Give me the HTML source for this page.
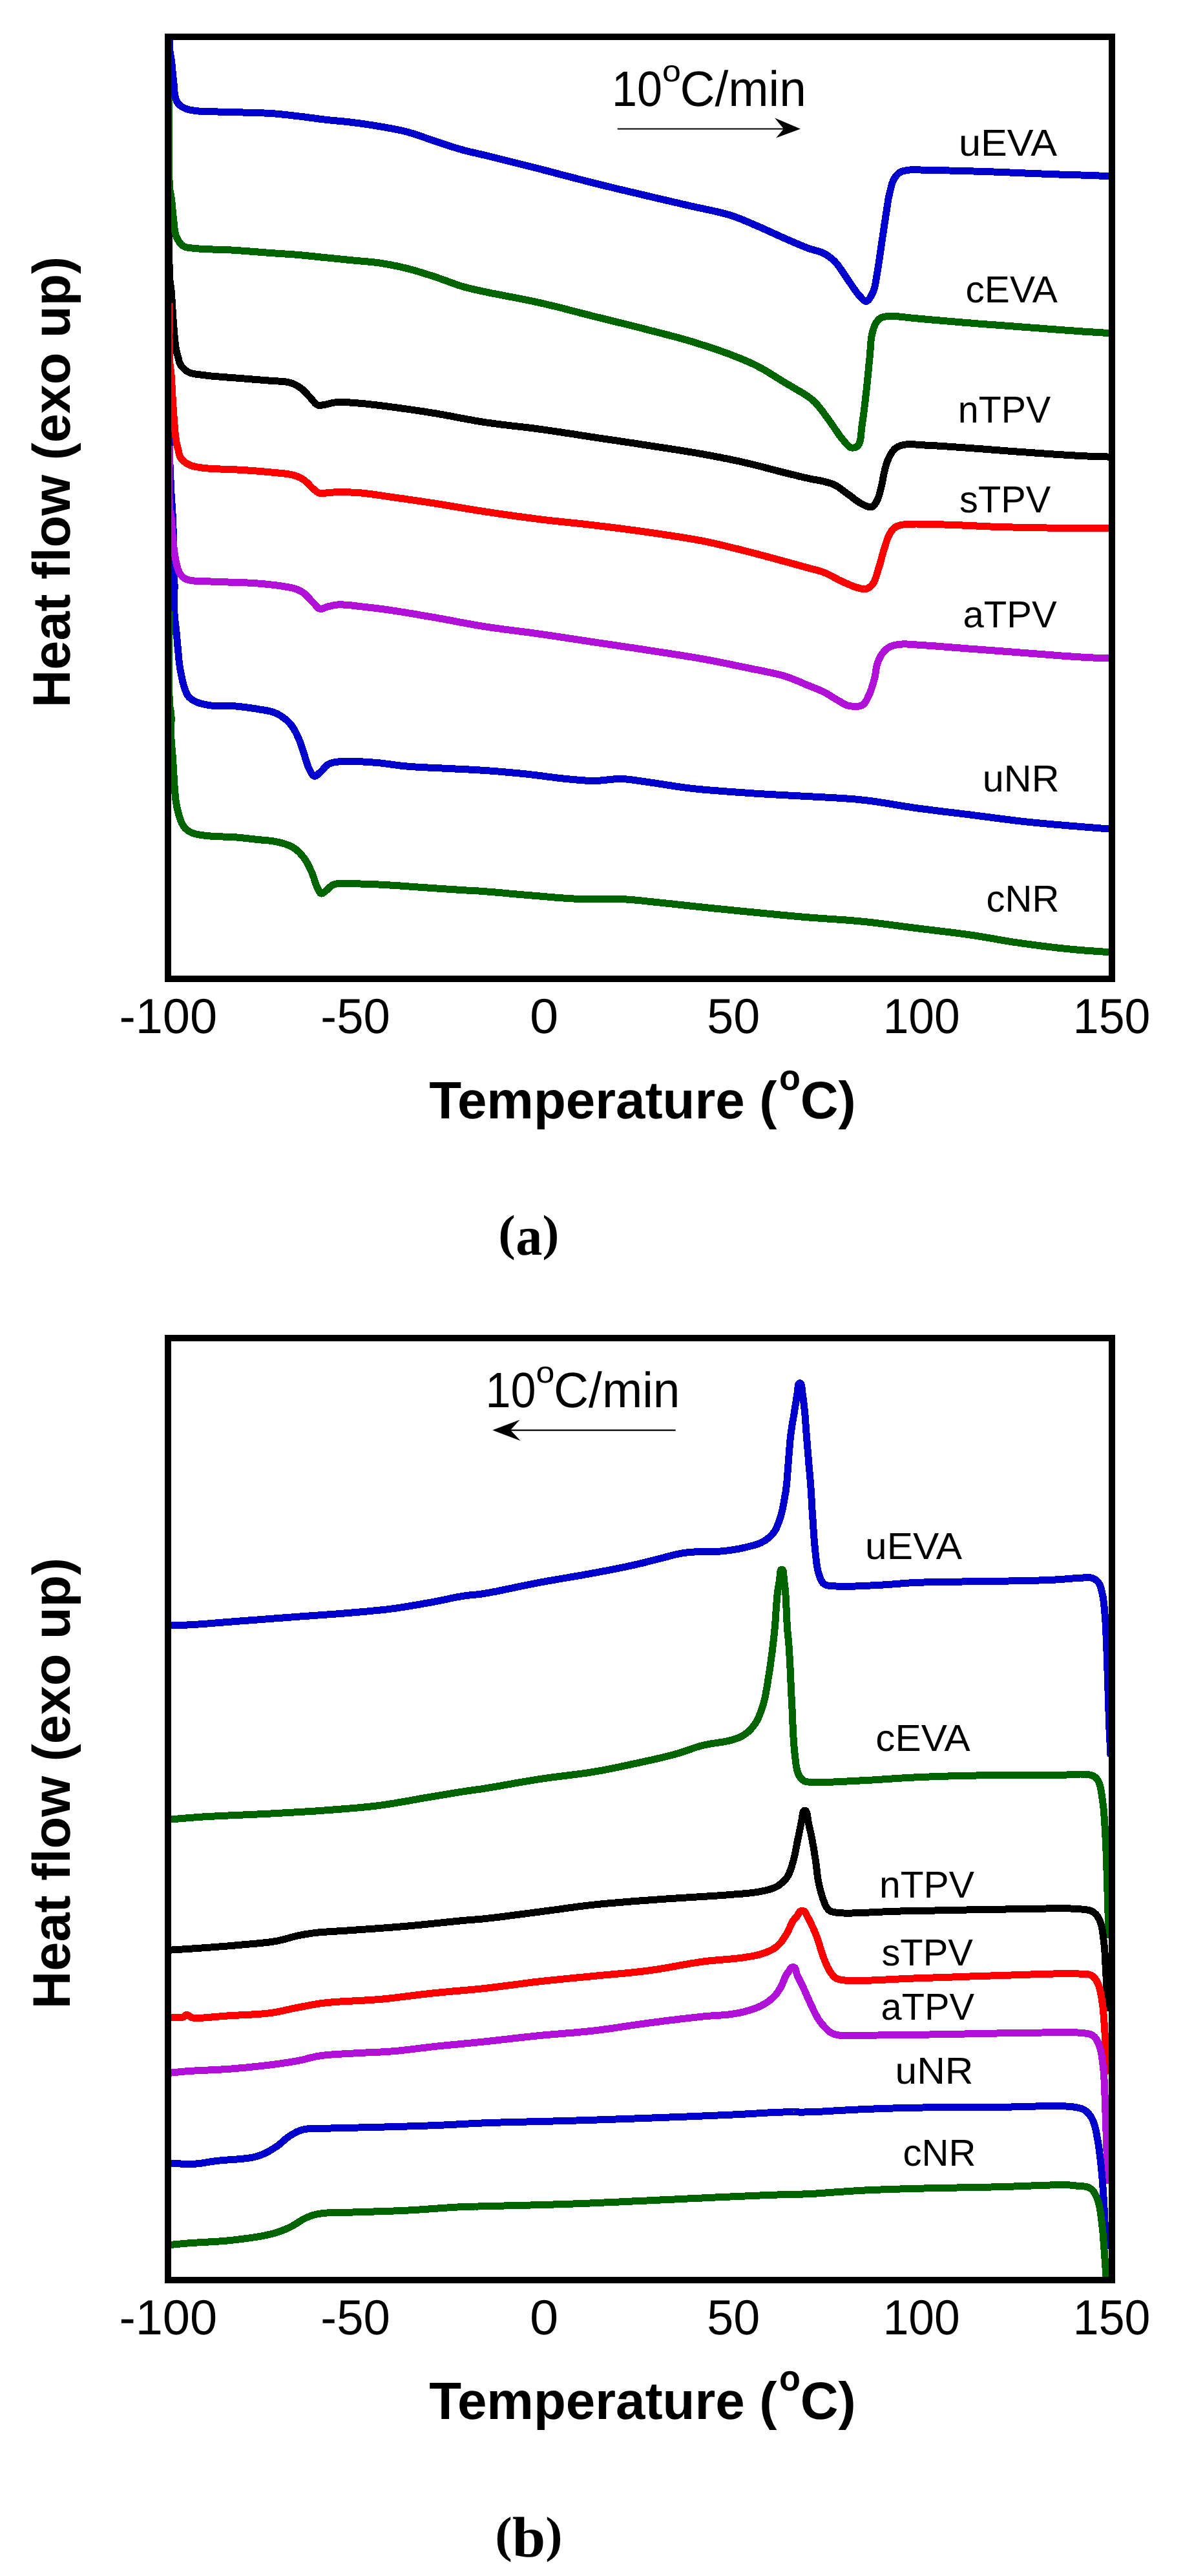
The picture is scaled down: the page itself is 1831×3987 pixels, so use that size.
<!DOCTYPE html>
<html><head><meta charset="utf-8"><title>DSC thermograms</title>
<style>
html,body{margin:0;padding:0;background:#fff;}
svg{display:block;}
text{font-family:"Liberation Sans",sans-serif;fill:#000;}
.cap text{font-family:"Liberation Serif",serif;font-weight:bold;}
.c path{fill:none;stroke-width:11;stroke-linejoin:round;stroke-linecap:butt;}
</style></head><body>
<svg width="1831" height="3987" viewBox="0 0 1831 3987" shape-rendering="crispEdges">
<defs>
<clipPath id="c1"><rect x="262" y="58" width="1457" height="1455"/></clipPath>
<clipPath id="c2"><rect x="262" y="2072" width="1457" height="1455.5"/></clipPath>
</defs>
<rect width="1831" height="3987" fill="#fff"/>

<g class="c">
<path d="M262.5 660.0 L262.5 661.1 L262.5 664.2 L262.4 668.8 L262.4 674.5 L262.4 680.9 L262.4 687.6 L262.4 694.1 L262.5 700.0 L262.7 707.0 L262.9 714.4 L263.1 722.0 L263.4 729.8 L263.8 737.6 L264.1 745.3 L264.5 752.8 L264.8 760.0 L265.1 765.8 L265.4 771.3 L265.8 776.6 L266.2 781.9 L266.5 787.2 L266.9 792.8 L267.2 798.7 L267.5 805.0 L267.9 815.1 L268.3 826.3 L268.7 838.2 L269.0 850.5 L269.3 862.9 L269.6 875.0 L269.8 886.5 L270.0 897.0 L270.0 904.4 L270.0 911.7 L269.9 918.8 L269.8 925.6 L269.7 932.1 L269.7 938.4 L269.8 944.4 L270.0 950.0 L270.2 953.7 L270.5 957.1 L270.9 960.3 L271.3 963.4 L271.7 966.5 L272.1 969.6 L272.4 972.7 L272.8 976.0 L273.2 979.8 L273.5 983.7 L273.9 987.6 L274.2 991.6 L274.6 995.6 L274.9 999.5 L275.3 1003.3 L275.6 1007.0 L275.9 1010.1 L276.2 1013.1 L276.5 1016.1 L276.7 1019.0 L277.0 1021.9 L277.3 1024.7 L277.7 1027.4 L278.0 1030.0 L278.3 1032.0 L278.6 1034.0 L279.0 1036.0 L279.3 1037.9 L279.7 1039.7 L280.0 1041.5 L280.4 1043.3 L280.7 1045.0 L281.0 1046.5 L281.3 1047.9 L281.5 1049.3 L281.8 1050.6 L282.1 1052.0 L282.4 1053.3 L282.7 1054.7 L283.0 1056.0 L283.3 1057.3 L283.7 1058.5 L284.0 1059.8 L284.4 1061.0 L284.7 1062.3 L285.1 1063.5 L285.5 1064.7 L286.0 1066.0 L286.5 1067.4 L287.0 1068.8 L287.6 1070.3 L288.1 1071.7 L288.7 1073.1 L289.4 1074.5 L290.2 1075.8 L291.0 1077.0 L291.9 1078.1 L292.9 1079.2 L294.0 1080.2 L295.1 1081.1 L296.3 1082.1 L297.5 1082.9 L298.7 1083.7 L300.0 1084.5 L301.3 1085.2 L302.7 1085.9 L304.1 1086.5 L305.5 1087.1 L306.9 1087.6 L308.4 1088.1 L309.9 1088.5 L311.5 1089.0 L313.3 1089.5 L315.1 1090.0 L316.9 1090.4 L318.8 1090.8 L320.7 1091.1 L322.7 1091.5 L324.8 1091.8 L327.0 1092.0 L330.1 1092.2 L333.4 1092.3 L336.9 1092.3 L340.4 1092.2 L344.1 1092.1 L347.9 1092.1 L351.8 1092.1 L355.7 1092.3 L360.6 1092.6 L365.8 1093.1 L371.3 1093.6 L376.8 1094.3 L382.3 1095.0 L387.7 1095.7 L393.0 1096.5 L397.9 1097.3 L401.9 1098.0 L405.9 1098.6 L409.7 1099.2 L413.5 1099.9 L417.2 1100.7 L420.8 1101.6 L424.2 1102.7 L427.5 1104.1 L430.5 1105.6 L433.4 1107.2 L436.3 1109.0 L439.0 1111.0 L441.6 1113.0 L444.1 1115.2 L446.4 1117.4 L448.6 1119.7 L450.6 1122.1 L452.5 1124.6 L454.1 1127.1 L455.7 1129.8 L457.2 1132.5 L458.6 1135.3 L460.0 1138.1 L461.3 1140.9 L462.6 1143.7 L463.7 1146.5 L464.8 1149.4 L465.8 1152.3 L466.8 1155.2 L467.8 1158.2 L468.8 1161.1 L469.8 1164.1 L470.8 1167.3 L471.8 1170.6 L472.8 1174.0 L473.8 1177.4 L474.8 1180.7 L475.9 1183.9 L477.0 1186.8 L478.2 1189.5 L479.2 1191.4 L480.1 1193.3 L481.1 1195.2 L482.2 1197.0 L483.2 1198.6 L484.3 1199.9 L485.5 1200.8 L486.7 1201.3 L487.9 1201.2 L489.2 1200.7 L490.5 1199.9 L491.9 1198.8 L493.2 1197.5 L494.6 1196.2 L495.9 1194.9 L497.3 1193.7 L498.6 1192.5 L499.8 1191.1 L501.1 1189.6 L502.3 1188.2 L503.5 1186.7 L504.9 1185.4 L506.3 1184.2 L507.8 1183.1 L509.6 1182.2 L511.4 1181.5 L513.3 1180.8 L515.3 1180.3 L517.4 1179.9 L519.7 1179.5 L522.1 1179.2 L524.7 1178.9 L530.1 1178.5 L536.3 1178.3 L543.1 1178.3 L550.4 1178.5 L557.8 1178.8 L565.4 1179.2 L572.7 1179.7 L579.7 1180.2 L586.1 1180.7 L592.4 1181.4 L598.6 1182.2 L604.8 1183.0 L611.0 1183.9 L617.4 1184.7 L623.8 1185.5 L630.4 1186.1 L638.0 1186.7 L645.8 1187.2 L653.8 1187.6 L661.9 1188.0 L670.0 1188.4 L678.0 1188.7 L686.0 1189.1 L693.8 1189.5 L701.0 1189.8 L708.0 1190.2 L715.0 1190.5 L721.9 1190.8 L728.8 1191.2 L735.8 1191.5 L742.8 1192.0 L750.0 1192.4 L757.7 1193.0 L765.6 1193.6 L773.5 1194.2 L781.5 1194.9 L789.5 1195.6 L797.5 1196.4 L805.5 1197.1 L813.4 1197.9 L821.4 1198.8 L829.6 1199.8 L837.7 1200.8 L845.9 1201.9 L854.0 1202.9 L861.8 1203.9 L869.5 1204.8 L876.8 1205.5 L882.5 1206.1 L888.0 1206.6 L893.3 1207.1 L898.5 1207.6 L903.6 1207.9 L908.7 1208.2 L913.8 1208.4 L919.1 1208.5 L924.3 1208.4 L929.6 1208.0 L934.9 1207.5 L940.2 1206.9 L945.5 1206.3 L950.8 1205.9 L956.0 1205.6 L961.3 1205.5 L966.6 1205.8 L971.7 1206.2 L976.8 1206.8 L981.9 1207.4 L987.1 1208.2 L992.4 1209.0 L997.9 1209.8 L1003.6 1210.6 L1010.9 1211.6 L1018.5 1212.8 L1026.4 1214.0 L1034.5 1215.3 L1042.6 1216.5 L1050.8 1217.8 L1059.0 1218.9 L1067.0 1219.9 L1074.9 1220.8 L1082.8 1221.6 L1090.7 1222.3 L1098.7 1223.0 L1106.6 1223.6 L1114.5 1224.2 L1122.5 1224.8 L1130.4 1225.4 L1138.3 1226.0 L1146.3 1226.6 L1154.3 1227.1 L1162.3 1227.7 L1170.3 1228.2 L1178.2 1228.7 L1186.0 1229.2 L1193.8 1229.6 L1200.9 1230.0 L1207.8 1230.4 L1214.6 1230.7 L1221.4 1231.1 L1228.2 1231.4 L1235.2 1231.8 L1242.5 1232.2 L1250.0 1232.6 L1259.7 1233.1 L1269.9 1233.6 L1280.5 1234.2 L1291.2 1234.8 L1302.1 1235.4 L1313.0 1236.2 L1323.9 1237.0 L1334.5 1238.1 L1345.1 1239.3 L1355.7 1240.8 L1366.3 1242.4 L1376.8 1244.1 L1387.4 1245.8 L1397.9 1247.6 L1408.5 1249.2 L1419.1 1250.8 L1429.6 1252.2 L1440.2 1253.5 L1450.8 1254.9 L1461.3 1256.2 L1471.9 1257.5 L1482.5 1258.7 L1493.0 1260.0 L1503.6 1261.3 L1514.2 1262.7 L1524.7 1264.0 L1535.3 1265.4 L1545.8 1266.8 L1556.4 1268.1 L1567.0 1269.5 L1577.5 1270.7 L1588.1 1271.9 L1598.8 1273.0 L1609.8 1274.1 L1620.8 1275.1 L1631.8 1276.1 L1642.6 1277.0 L1653.1 1277.9 L1663.2 1278.7 L1672.7 1279.5 L1680.0 1280.1 L1688.0 1280.7 L1696.1 1281.4 L1703.9 1282.0 L1710.7 1282.5 L1716.3 1282.9 L1719.9 1283.2 L1721.3 1283.3" stroke="#0000cd" clip-path="url(#c1)"/>
<path d="M262.5 945.7 L262.4 950.9 L262.2 965.0 L262.0 985.2 L261.8 1009.1 L261.7 1034.1 L261.7 1057.6 L262.0 1077.1 L262.5 1090.0 L262.7 1092.6 L263.0 1094.7 L263.4 1096.5 L263.7 1098.1 L264.0 1099.6 L264.3 1101.2 L264.6 1102.9 L264.8 1105.0 L265.0 1108.7 L265.0 1112.7 L265.0 1117.0 L264.9 1121.6 L264.8 1126.2 L264.7 1130.9 L264.7 1135.5 L264.8 1140.0 L265.0 1144.3 L265.3 1148.6 L265.6 1152.9 L266.0 1157.2 L266.4 1161.5 L266.8 1165.9 L267.2 1170.4 L267.5 1175.0 L267.9 1180.6 L268.2 1186.5 L268.6 1192.5 L268.9 1198.7 L269.3 1204.7 L269.6 1210.5 L270.0 1216.0 L270.4 1221.0 L270.7 1224.2 L270.9 1227.2 L271.2 1230.1 L271.4 1232.9 L271.7 1235.5 L272.0 1238.1 L272.3 1240.6 L272.7 1243.0 L273.0 1244.8 L273.3 1246.5 L273.6 1248.2 L274.0 1249.8 L274.4 1251.3 L274.7 1252.9 L275.1 1254.4 L275.5 1256.0 L275.9 1257.5 L276.3 1259.1 L276.7 1260.6 L277.1 1262.2 L277.6 1263.7 L278.0 1265.2 L278.5 1266.6 L279.0 1268.0 L279.4 1269.2 L279.9 1270.4 L280.3 1271.5 L280.8 1272.7 L281.3 1273.8 L281.8 1274.9 L282.4 1275.9 L283.0 1277.0 L283.7 1278.1 L284.5 1279.2 L285.3 1280.2 L286.1 1281.3 L287.0 1282.3 L288.0 1283.2 L289.0 1284.2 L290.0 1285.0 L291.1 1285.8 L292.2 1286.5 L293.4 1287.2 L294.6 1287.8 L295.8 1288.4 L297.1 1289.0 L298.5 1289.5 L300.0 1290.0 L302.1 1290.6 L304.4 1291.2 L306.8 1291.7 L309.4 1292.1 L312.0 1292.5 L314.7 1292.9 L317.3 1293.2 L320.0 1293.5 L323.1 1293.8 L326.3 1294.1 L329.6 1294.3 L333.0 1294.5 L336.3 1294.7 L339.4 1294.8 L342.4 1294.9 L345.0 1295.0 L346.5 1295.0 L347.8 1295.1 L349.0 1295.0 L350.2 1295.0 L351.3 1295.0 L352.6 1295.0 L354.0 1295.1 L355.7 1295.1 L359.7 1295.4 L364.4 1295.8 L369.8 1296.3 L375.5 1296.9 L381.4 1297.6 L387.2 1298.2 L392.8 1298.8 L397.9 1299.4 L401.9 1299.8 L405.8 1300.1 L409.5 1300.4 L413.2 1300.7 L416.9 1301.1 L420.4 1301.5 L424.0 1302.1 L427.5 1302.7 L430.9 1303.5 L434.2 1304.3 L437.5 1305.2 L440.8 1306.1 L444.0 1307.2 L447.1 1308.4 L450.1 1309.7 L452.9 1311.2 L455.3 1312.8 L457.7 1314.4 L459.9 1316.3 L462.0 1318.2 L464.1 1320.2 L466.0 1322.3 L467.9 1324.6 L469.8 1326.8 L471.7 1329.4 L473.4 1332.2 L475.1 1335.0 L476.7 1338.0 L478.2 1341.0 L479.7 1344.1 L481.1 1347.1 L482.5 1350.1 L483.7 1353.0 L484.8 1356.1 L485.9 1359.2 L486.9 1362.3 L487.8 1365.4 L488.8 1368.3 L489.8 1370.9 L490.9 1373.3 L491.7 1374.9 L492.4 1376.5 L493.1 1378.1 L493.9 1379.5 L494.6 1380.8 L495.5 1381.9 L496.3 1382.6 L497.3 1383.1 L498.2 1383.0 L499.2 1382.7 L500.2 1382.1 L501.3 1381.3 L502.4 1380.4 L503.5 1379.4 L504.6 1378.4 L505.7 1377.6 L506.9 1376.6 L508.2 1375.4 L509.4 1374.3 L510.6 1373.1 L511.9 1371.9 L513.2 1370.8 L514.7 1369.9 L516.3 1369.1 L518.4 1368.4 L520.7 1368.0 L523.2 1367.8 L525.7 1367.7 L528.4 1367.7 L531.3 1367.8 L534.3 1367.8 L537.4 1367.8 L542.7 1367.8 L548.4 1367.8 L554.6 1367.9 L561.0 1368.1 L567.7 1368.3 L574.5 1368.5 L581.4 1368.8 L588.1 1369.1 L595.7 1369.5 L603.5 1370.0 L611.4 1370.5 L619.4 1371.0 L627.4 1371.6 L635.5 1372.2 L643.5 1372.8 L651.5 1373.3 L659.6 1373.9 L667.8 1374.4 L676.1 1375.0 L684.4 1375.5 L692.5 1376.1 L700.4 1376.6 L707.9 1377.1 L714.9 1377.6 L719.7 1377.9 L724.2 1378.1 L728.4 1378.3 L732.5 1378.6 L736.5 1378.8 L740.7 1379.0 L745.2 1379.3 L750.0 1379.7 L757.0 1380.2 L764.3 1380.8 L772.0 1381.5 L780.0 1382.2 L788.1 1383.0 L796.5 1383.7 L804.9 1384.5 L813.4 1385.2 L823.5 1386.0 L834.0 1386.9 L844.7 1387.8 L855.7 1388.8 L866.6 1389.6 L877.4 1390.4 L887.9 1391.0 L897.9 1391.5 L906.3 1391.7 L914.4 1391.7 L922.4 1391.6 L930.2 1391.5 L938.0 1391.3 L945.7 1391.2 L953.5 1391.3 L961.3 1391.5 L969.3 1392.0 L977.2 1392.5 L985.1 1393.3 L993.0 1394.0 L1001.0 1394.9 L1008.9 1395.7 L1016.8 1396.6 L1024.7 1397.4 L1032.6 1398.2 L1040.4 1399.0 L1048.1 1399.9 L1055.9 1400.7 L1063.7 1401.6 L1071.6 1402.4 L1079.8 1403.3 L1088.1 1404.2 L1098.1 1405.2 L1108.5 1406.3 L1119.1 1407.3 L1129.9 1408.4 L1140.7 1409.5 L1151.5 1410.6 L1162.2 1411.6 L1172.7 1412.6 L1182.5 1413.6 L1192.1 1414.5 L1201.8 1415.4 L1211.3 1416.4 L1220.9 1417.2 L1230.5 1418.1 L1240.2 1419.0 L1250.0 1419.8 L1260.4 1420.6 L1270.9 1421.4 L1281.4 1422.1 L1292.0 1422.8 L1302.7 1423.5 L1313.3 1424.3 L1323.9 1425.2 L1334.5 1426.2 L1345.1 1427.3 L1355.7 1428.5 L1366.2 1429.8 L1376.8 1431.2 L1387.4 1432.6 L1397.9 1434.0 L1408.5 1435.4 L1419.1 1436.7 L1429.7 1438.0 L1440.5 1439.3 L1451.3 1440.6 L1462.1 1441.9 L1472.8 1443.2 L1483.3 1444.5 L1493.6 1445.9 L1503.6 1447.3 L1512.0 1448.6 L1520.1 1449.9 L1528.0 1451.3 L1535.9 1452.6 L1543.6 1454.0 L1551.3 1455.3 L1559.1 1456.6 L1567.0 1457.9 L1575.0 1459.0 L1583.1 1460.2 L1591.3 1461.3 L1599.5 1462.4 L1607.5 1463.5 L1615.4 1464.5 L1623.1 1465.4 L1630.4 1466.3 L1636.1 1467.0 L1641.5 1467.6 L1646.7 1468.1 L1651.9 1468.6 L1657.0 1469.1 L1662.1 1469.6 L1667.3 1470.1 L1672.7 1470.5 L1679.2 1471.1 L1686.8 1471.6 L1694.9 1472.2 L1702.8 1472.7 L1710.0 1473.2 L1715.9 1473.6 L1719.8 1473.8 L1721.3 1473.9" stroke="#006400" clip-path="url(#c1)"/>
<path d="M262.5 690.0 L262.4 693.5 L262.3 702.7 L262.1 716.1 L261.9 732.0 L261.8 748.7 L261.9 764.5 L262.1 777.9 L262.5 787.0 L262.7 789.2 L263.0 791.0 L263.3 792.5 L263.6 793.9 L263.9 795.2 L264.2 796.6 L264.5 798.2 L264.8 800.0 L265.2 803.3 L265.5 807.1 L265.9 811.1 L266.2 815.3 L266.5 819.6 L266.8 823.9 L267.1 828.1 L267.5 832.0 L267.8 835.4 L268.2 838.9 L268.5 842.3 L268.9 845.7 L269.2 849.0 L269.6 852.1 L270.0 855.2 L270.4 858.0 L270.7 860.0 L271.0 861.8 L271.3 863.6 L271.6 865.3 L271.9 867.0 L272.2 868.6 L272.6 870.3 L273.0 872.0 L273.4 873.8 L273.9 875.6 L274.4 877.5 L274.9 879.3 L275.5 881.1 L276.1 882.8 L276.8 884.5 L277.5 886.0 L278.2 887.2 L278.9 888.3 L279.7 889.4 L280.4 890.5 L281.3 891.4 L282.1 892.4 L283.1 893.2 L284.0 894.0 L284.9 894.7 L285.8 895.2 L286.6 895.8 L287.6 896.2 L288.6 896.7 L289.7 897.1 L290.9 897.4 L292.3 897.8 L295.9 898.5 L300.3 899.0 L305.3 899.3 L310.8 899.6 L316.6 899.7 L322.6 899.9 L328.6 900.1 L334.5 900.3 L341.9 900.6 L349.8 900.9 L358.1 901.2 L366.4 901.4 L374.8 901.7 L382.9 902.0 L390.7 902.4 L397.9 902.9 L403.2 903.3 L408.4 903.8 L413.4 904.3 L418.3 904.8 L423.0 905.4 L427.5 905.9 L431.8 906.5 L436.0 907.1 L439.0 907.6 L441.8 908.0 L444.6 908.5 L447.3 909.0 L449.9 909.5 L452.4 910.0 L454.8 910.6 L457.1 911.4 L458.9 912.0 L460.6 912.6 L462.2 913.3 L463.7 914.0 L465.2 914.8 L466.7 915.7 L468.2 916.6 L469.8 917.7 L471.7 919.2 L473.6 920.9 L475.5 922.8 L477.4 924.8 L479.2 926.9 L481.0 928.9 L482.8 930.8 L484.6 932.5 L485.9 933.9 L487.3 935.4 L488.5 936.9 L489.8 938.4 L491.0 939.7 L492.3 940.8 L493.7 941.7 L495.1 942.2 L496.6 942.4 L498.1 942.2 L499.6 941.8 L501.2 941.3 L502.8 940.6 L504.5 939.9 L506.1 939.3 L507.8 938.8 L509.8 938.4 L511.7 937.9 L513.6 937.5 L515.6 937.0 L517.7 936.6 L519.9 936.3 L522.2 936.0 L524.7 935.9 L529.1 935.9 L533.9 936.1 L539.2 936.5 L544.7 937.0 L550.3 937.7 L556.0 938.4 L561.6 939.1 L567.0 939.7 L572.2 940.3 L577.4 940.9 L582.5 941.5 L587.6 942.2 L592.8 942.8 L598.1 943.6 L603.6 944.3 L609.3 945.2 L616.5 946.3 L624.1 947.5 L631.8 948.8 L639.8 950.1 L647.9 951.5 L656.1 952.9 L664.3 954.3 L672.7 955.7 L681.9 957.4 L691.4 959.1 L700.9 960.9 L710.6 962.8 L720.4 964.6 L730.2 966.4 L740.1 968.1 L750.0 969.7 L760.4 971.3 L770.9 972.7 L781.4 974.2 L792.0 975.5 L802.7 976.9 L813.3 978.2 L823.9 979.6 L834.5 981.1 L845.1 982.6 L855.7 984.2 L866.2 985.8 L876.8 987.4 L887.4 989.0 L897.9 990.6 L908.5 992.2 L919.1 993.8 L929.6 995.4 L940.2 996.9 L950.8 998.5 L961.3 1000.1 L971.9 1001.7 L982.5 1003.2 L993.0 1004.8 L1003.6 1006.5 L1014.2 1008.1 L1025.0 1009.8 L1035.8 1011.4 L1046.6 1013.1 L1057.3 1014.8 L1067.9 1016.5 L1078.2 1018.2 L1088.1 1020.0 L1096.5 1021.5 L1104.6 1023.1 L1112.6 1024.6 L1120.4 1026.2 L1128.2 1027.8 L1135.9 1029.4 L1143.7 1031.0 L1151.5 1032.7 L1159.6 1034.3 L1167.8 1036.0 L1176.2 1037.6 L1184.5 1039.3 L1192.6 1041.0 L1200.5 1042.8 L1207.9 1044.6 L1214.9 1046.6 L1219.9 1048.2 L1224.6 1049.9 L1229.2 1051.7 L1233.5 1053.5 L1237.8 1055.3 L1241.9 1057.1 L1246.0 1058.9 L1250.0 1060.6 L1253.4 1061.9 L1256.7 1063.2 L1260.0 1064.5 L1263.1 1065.7 L1266.3 1067.0 L1269.3 1068.3 L1272.4 1069.7 L1275.4 1071.1 L1278.1 1072.6 L1280.9 1074.2 L1283.6 1075.8 L1286.2 1077.5 L1288.8 1079.2 L1291.4 1080.8 L1294.0 1082.4 L1296.5 1083.8 L1298.7 1085.0 L1300.8 1086.3 L1302.8 1087.6 L1304.9 1088.8 L1306.9 1089.9 L1309.0 1090.8 L1311.2 1091.7 L1313.4 1092.3 L1316.0 1092.8 L1318.7 1093.1 L1321.5 1093.4 L1324.4 1093.5 L1327.2 1093.4 L1329.9 1093.0 L1332.4 1092.4 L1334.5 1091.4 L1336.3 1090.2 L1337.9 1088.6 L1339.3 1086.7 L1340.6 1084.6 L1341.8 1082.4 L1342.9 1080.1 L1344.0 1077.7 L1345.1 1075.4 L1346.4 1072.5 L1347.6 1069.5 L1348.8 1066.3 L1349.8 1063.0 L1350.9 1059.7 L1351.8 1056.4 L1352.7 1053.2 L1353.6 1050.0 L1354.2 1047.1 L1354.7 1044.2 L1355.2 1041.4 L1355.5 1038.5 L1356.0 1035.7 L1356.4 1032.9 L1357.0 1030.2 L1357.8 1027.6 L1358.6 1025.3 L1359.5 1023.0 L1360.4 1020.7 L1361.5 1018.5 L1362.6 1016.4 L1363.7 1014.4 L1364.9 1012.5 L1366.2 1010.7 L1367.4 1009.3 L1368.6 1007.9 L1369.8 1006.6 L1371.0 1005.4 L1372.4 1004.3 L1373.8 1003.2 L1375.2 1002.3 L1376.8 1001.4 L1378.6 1000.5 L1380.6 999.8 L1382.6 999.1 L1384.7 998.6 L1386.9 998.1 L1389.1 997.8 L1391.4 997.4 L1393.7 997.2 L1396.5 997.0 L1399.3 996.9 L1402.2 996.9 L1405.1 997.1 L1408.2 997.3 L1411.6 997.5 L1415.1 997.8 L1419.1 998.0 L1427.3 998.5 L1436.7 999.2 L1447.1 999.9 L1458.2 1000.8 L1469.7 1001.7 L1481.3 1002.6 L1492.7 1003.5 L1503.6 1004.4 L1514.2 1005.1 L1524.7 1005.9 L1535.3 1006.7 L1545.9 1007.5 L1556.4 1008.3 L1567.0 1009.1 L1577.6 1009.9 L1588.1 1010.7 L1598.8 1011.5 L1609.8 1012.4 L1620.8 1013.2 L1631.8 1014.1 L1642.7 1015.0 L1653.2 1015.7 L1663.2 1016.4 L1672.7 1017.0 L1680.0 1017.4 L1688.0 1017.8 L1696.1 1018.2 L1703.9 1018.5 L1710.7 1018.8 L1716.3 1019.0 L1719.9 1019.1 L1721.3 1019.1" stroke="#b010d8" clip-path="url(#c1)"/>
<path d="M262.5 300.0 L262.4 304.6 L262.3 316.9 L262.1 334.7 L261.9 355.7 L261.8 377.9 L261.9 399.0 L262.1 416.7 L262.5 429.0 L262.7 432.0 L263.0 434.5 L263.3 436.6 L263.6 438.6 L263.9 440.5 L264.2 442.4 L264.5 444.5 L264.8 447.0 L265.2 451.3 L265.5 455.9 L265.9 460.9 L266.2 466.1 L266.5 471.5 L266.8 476.8 L267.2 482.0 L267.5 487.0 L267.8 491.7 L268.2 496.4 L268.5 501.2 L268.9 505.9 L269.3 510.5 L269.6 514.9 L270.0 519.1 L270.4 523.0 L270.7 525.6 L270.9 528.0 L271.2 530.4 L271.4 532.6 L271.7 534.8 L272.0 536.9 L272.3 539.0 L272.7 541.0 L273.0 542.6 L273.4 544.2 L273.7 545.7 L274.1 547.2 L274.5 548.6 L274.9 550.1 L275.3 551.5 L275.7 553.0 L276.1 554.5 L276.5 556.0 L276.8 557.5 L277.2 559.0 L277.6 560.5 L278.2 562.0 L278.8 563.4 L279.6 564.8 L280.7 566.4 L282.0 568.0 L283.5 569.6 L285.0 571.1 L286.7 572.6 L288.5 573.9 L290.4 575.1 L292.3 576.2 L294.5 577.2 L296.8 577.9 L299.2 578.5 L301.7 578.9 L304.3 579.3 L307.1 579.6 L310.2 580.0 L313.4 580.4 L319.8 581.2 L327.1 582.0 L335.2 582.7 L343.8 583.4 L352.5 584.1 L361.0 584.7 L369.2 585.3 L376.8 585.9 L382.5 586.4 L388.1 586.8 L393.6 587.3 L398.9 587.7 L404.1 588.1 L409.2 588.5 L414.2 588.9 L419.1 589.3 L423.1 589.6 L427.0 589.8 L431.0 590.0 L434.8 590.2 L438.5 590.5 L442.0 590.9 L445.4 591.5 L448.6 592.3 L451.1 593.0 L453.4 593.9 L455.5 594.8 L457.6 595.8 L459.7 596.9 L461.7 598.1 L463.6 599.4 L465.6 600.7 L467.6 602.3 L469.5 604.0 L471.4 605.9 L473.3 607.9 L475.1 609.8 L476.9 611.8 L478.6 613.7 L480.3 615.5 L481.8 617.1 L483.2 618.8 L484.6 620.5 L486.0 622.1 L487.4 623.7 L488.8 625.0 L490.2 626.1 L491.8 626.9 L493.1 627.3 L494.5 627.4 L496.0 627.4 L497.4 627.2 L498.9 627.0 L500.4 626.6 L502.0 626.3 L503.6 626.1 L505.5 625.8 L507.5 625.3 L509.5 624.8 L511.5 624.3 L513.6 623.8 L515.8 623.4 L518.1 623.0 L520.5 622.7 L524.1 622.5 L527.9 622.4 L532.0 622.5 L536.2 622.7 L540.5 622.9 L545.0 623.3 L549.6 623.6 L554.3 624.0 L560.5 624.5 L567.0 625.1 L573.8 625.9 L580.7 626.7 L587.8 627.5 L594.9 628.4 L602.1 629.4 L609.3 630.3 L616.9 631.3 L624.7 632.4 L632.4 633.5 L640.3 634.6 L648.2 635.8 L656.3 637.0 L664.4 638.3 L672.7 639.6 L681.9 641.2 L691.4 642.9 L700.9 644.7 L710.6 646.6 L720.4 648.4 L730.2 650.2 L740.1 652.0 L750.0 653.6 L760.4 655.0 L770.8 656.4 L781.4 657.7 L792.0 659.0 L802.7 660.2 L813.3 661.4 L823.9 662.7 L834.5 664.1 L845.1 665.6 L855.7 667.1 L866.2 668.7 L876.8 670.3 L887.4 671.9 L897.9 673.6 L908.5 675.2 L919.1 676.8 L929.6 678.4 L940.2 679.9 L950.8 681.5 L961.3 683.1 L971.9 684.7 L982.5 686.2 L993.0 687.9 L1003.6 689.5 L1014.2 691.1 L1025.0 692.8 L1035.8 694.4 L1046.6 696.1 L1057.3 697.8 L1067.9 699.5 L1078.2 701.2 L1088.1 703.0 L1096.5 704.5 L1104.6 706.0 L1112.6 707.5 L1120.4 709.1 L1128.2 710.6 L1135.9 712.3 L1143.7 713.9 L1151.5 715.7 L1159.6 717.6 L1167.8 719.6 L1176.1 721.7 L1184.4 723.8 L1192.5 726.0 L1200.4 728.0 L1207.9 730.0 L1214.9 731.7 L1219.8 733.0 L1224.5 734.1 L1229.1 735.2 L1233.4 736.3 L1237.7 737.4 L1241.9 738.3 L1246.0 739.3 L1250.0 740.2 L1253.4 740.9 L1256.7 741.6 L1260.0 742.2 L1263.3 742.7 L1266.4 743.3 L1269.5 743.9 L1272.5 744.6 L1275.4 745.3 L1277.6 745.9 L1279.8 746.4 L1281.9 747.0 L1284.0 747.6 L1286.0 748.2 L1288.1 748.9 L1290.2 749.8 L1292.3 750.8 L1294.9 752.2 L1297.5 753.8 L1300.1 755.7 L1302.8 757.6 L1305.4 759.6 L1308.1 761.6 L1310.8 763.6 L1313.4 765.6 L1316.1 767.5 L1318.7 769.5 L1321.4 771.6 L1324.1 773.6 L1326.8 775.6 L1329.4 777.4 L1332.0 779.0 L1334.5 780.3 L1336.5 781.3 L1338.5 782.2 L1340.4 783.1 L1342.4 783.9 L1344.3 784.4 L1346.1 784.8 L1347.8 784.9 L1349.3 784.6 L1350.7 784.0 L1351.9 783.0 L1353.0 781.9 L1354.1 780.5 L1355.1 779.0 L1356.0 777.3 L1356.9 775.7 L1357.8 774.0 L1358.8 771.8 L1359.7 769.4 L1360.6 766.9 L1361.3 764.2 L1362.0 761.5 L1362.7 758.6 L1363.4 755.8 L1364.1 752.9 L1365.0 749.4 L1365.7 745.6 L1366.5 741.8 L1367.2 737.9 L1368.0 734.0 L1368.8 730.2 L1369.6 726.6 L1370.5 723.3 L1371.2 720.9 L1371.9 718.6 L1372.6 716.4 L1373.3 714.3 L1374.1 712.2 L1375.0 710.2 L1375.8 708.3 L1376.8 706.4 L1377.7 704.7 L1378.6 703.1 L1379.6 701.5 L1380.6 699.9 L1381.6 698.4 L1382.8 697.0 L1384.0 695.7 L1385.2 694.5 L1386.6 693.5 L1387.9 692.6 L1389.3 691.7 L1390.8 690.9 L1392.4 690.3 L1394.1 689.6 L1395.9 689.1 L1397.9 688.6 L1401.9 688.0 L1406.5 687.8 L1411.5 687.8 L1416.9 688.0 L1422.6 688.4 L1428.4 688.8 L1434.3 689.2 L1440.2 689.5 L1447.4 689.8 L1454.9 690.3 L1462.6 690.8 L1470.5 691.3 L1478.6 691.9 L1486.8 692.5 L1495.1 693.1 L1503.6 693.7 L1513.6 694.4 L1523.9 695.2 L1534.4 696.0 L1545.1 696.8 L1555.9 697.7 L1566.7 698.5 L1577.5 699.3 L1588.1 700.0 L1598.8 700.8 L1609.8 701.6 L1620.8 702.3 L1631.8 703.1 L1642.7 703.8 L1653.2 704.4 L1663.2 705.0 L1672.7 705.5 L1680.0 705.9 L1688.0 706.2 L1696.1 706.5 L1703.9 706.7 L1710.7 706.9 L1716.3 707.1 L1719.9 707.2 L1721.3 707.2" stroke="#000000" clip-path="url(#c1)"/>
<path d="M262.5 468.5 L262.5 471.5 L262.4 479.6 L262.2 491.4 L262.1 505.5 L262.0 520.5 L262.1 535.0 L262.2 547.7 L262.5 557.0 L262.7 560.3 L263.0 563.1 L263.3 565.6 L263.6 567.9 L263.9 570.2 L264.2 572.5 L264.5 575.1 L264.8 578.0 L265.2 582.7 L265.5 587.9 L265.9 593.4 L266.2 599.1 L266.5 604.9 L266.8 610.8 L267.2 616.5 L267.5 622.0 L267.8 627.2 L268.2 632.4 L268.5 637.7 L268.9 642.9 L269.3 648.0 L269.6 652.9 L270.0 657.6 L270.4 662.0 L270.7 665.0 L270.9 667.9 L271.2 670.6 L271.5 673.3 L271.8 675.9 L272.1 678.3 L272.4 680.7 L272.8 683.0 L273.1 684.7 L273.4 686.2 L273.7 687.7 L274.1 689.2 L274.4 690.6 L274.8 692.0 L275.2 693.5 L275.6 695.0 L276.0 696.7 L276.4 698.4 L276.7 700.2 L277.1 701.9 L277.5 703.7 L278.1 705.4 L278.7 707.0 L279.6 708.5 L280.7 710.1 L282.0 711.6 L283.5 713.0 L285.1 714.4 L286.8 715.7 L288.5 716.9 L290.4 718.0 L292.3 719.0 L294.5 720.0 L296.8 720.9 L299.2 721.6 L301.7 722.2 L304.3 722.7 L307.1 723.2 L310.2 723.6 L313.4 724.1 L319.7 724.8 L327.0 725.4 L335.0 725.8 L343.4 726.1 L352.0 726.4 L360.6 726.7 L369.0 727.1 L376.8 727.5 L383.5 728.0 L390.3 728.5 L397.0 729.0 L403.6 729.5 L410.0 730.1 L416.2 730.6 L422.1 731.2 L427.5 731.7 L431.1 732.1 L434.6 732.4 L437.9 732.7 L441.1 733.1 L444.2 733.4 L447.2 733.9 L450.0 734.4 L452.9 735.1 L455.2 735.8 L457.5 736.5 L459.6 737.3 L461.8 738.1 L463.8 739.0 L465.8 740.0 L467.8 741.1 L469.8 742.3 L471.8 743.8 L473.7 745.5 L475.6 747.3 L477.5 749.2 L479.3 751.1 L481.1 753.0 L482.8 754.7 L484.6 756.3 L485.9 757.4 L487.2 758.5 L488.4 759.5 L489.7 760.5 L490.9 761.5 L492.3 762.3 L493.6 762.9 L495.1 763.4 L497.0 763.8 L498.8 763.8 L500.8 763.7 L502.8 763.4 L504.9 763.0 L507.2 762.6 L509.5 762.3 L512.0 762.2 L516.4 762.0 L521.1 761.9 L526.3 761.9 L531.7 761.9 L537.2 761.9 L542.9 762.0 L548.6 762.3 L554.3 762.6 L560.8 763.1 L567.5 763.9 L574.2 764.7 L581.1 765.7 L588.1 766.7 L595.1 767.7 L602.2 768.8 L609.3 769.8 L616.9 770.9 L624.6 771.9 L632.4 773.1 L640.3 774.2 L648.2 775.4 L656.3 776.6 L664.4 777.8 L672.7 779.1 L681.9 780.6 L691.4 782.1 L700.9 783.7 L710.6 785.3 L720.4 787.0 L730.2 788.6 L740.1 790.2 L750.0 791.8 L760.4 793.3 L770.9 794.9 L781.4 796.4 L792.0 797.9 L802.6 799.4 L813.3 800.8 L823.9 802.2 L834.5 803.6 L845.1 804.9 L855.7 806.1 L866.2 807.2 L876.8 808.3 L887.4 809.4 L897.9 810.5 L908.5 811.7 L919.1 812.9 L929.6 814.2 L940.2 815.5 L950.8 816.8 L961.3 818.1 L971.9 819.5 L982.5 820.9 L993.0 822.4 L1003.6 823.9 L1014.3 825.4 L1025.0 827.0 L1035.9 828.6 L1046.7 830.3 L1057.4 832.0 L1067.9 833.7 L1078.2 835.5 L1088.1 837.4 L1096.5 839.1 L1104.7 840.9 L1112.6 842.7 L1120.4 844.5 L1128.2 846.4 L1135.9 848.3 L1143.7 850.2 L1151.5 852.2 L1159.6 854.2 L1167.8 856.4 L1176.1 858.6 L1184.4 860.8 L1192.5 863.0 L1200.4 865.1 L1207.9 867.2 L1214.9 869.1 L1219.8 870.4 L1224.6 871.7 L1229.1 873.0 L1233.5 874.2 L1237.7 875.4 L1241.9 876.5 L1246.0 877.7 L1250.0 878.8 L1253.4 879.7 L1256.7 880.6 L1259.9 881.4 L1263.0 882.2 L1266.1 883.0 L1269.2 883.9 L1272.3 884.9 L1275.4 886.0 L1278.6 887.4 L1281.8 888.9 L1284.9 890.5 L1288.1 892.1 L1291.2 893.8 L1294.4 895.5 L1297.5 897.2 L1300.7 898.7 L1303.9 900.2 L1307.2 901.7 L1310.5 903.2 L1313.8 904.6 L1317.0 906.0 L1320.2 907.3 L1323.2 908.4 L1326.1 909.3 L1328.1 909.8 L1330.1 910.4 L1332.0 910.9 L1333.9 911.3 L1335.7 911.6 L1337.5 911.7 L1339.2 911.7 L1340.9 911.4 L1342.4 910.9 L1343.8 910.1 L1345.2 909.3 L1346.6 908.2 L1347.9 907.1 L1349.1 905.8 L1350.3 904.4 L1351.4 902.9 L1352.8 900.7 L1354.0 898.1 L1355.1 895.3 L1356.1 892.3 L1357.1 889.2 L1358.0 886.0 L1358.9 882.8 L1359.9 879.7 L1361.0 876.1 L1362.1 872.5 L1363.1 868.7 L1364.1 864.9 L1365.1 861.1 L1366.2 857.3 L1367.2 853.6 L1368.3 850.1 L1369.3 847.0 L1370.3 843.8 L1371.3 840.7 L1372.3 837.6 L1373.3 834.7 L1374.4 831.9 L1375.6 829.2 L1376.8 826.8 L1377.7 825.2 L1378.7 823.7 L1379.6 822.2 L1380.6 820.8 L1381.7 819.5 L1382.8 818.3 L1384.0 817.3 L1385.2 816.3 L1386.6 815.4 L1387.9 814.7 L1389.2 814.1 L1390.7 813.6 L1392.2 813.2 L1393.9 812.8 L1395.8 812.4 L1397.9 812.0 L1403.4 811.4 L1410.1 811.1 L1417.7 811.0 L1426.0 811.1 L1434.7 811.3 L1443.7 811.6 L1452.6 811.8 L1461.3 812.0 L1471.3 812.3 L1481.6 812.7 L1492.1 813.1 L1502.8 813.6 L1513.6 814.1 L1524.4 814.6 L1535.2 815.1 L1545.9 815.4 L1556.4 815.7 L1566.9 816.0 L1577.4 816.2 L1587.9 816.5 L1598.5 816.7 L1609.0 816.8 L1619.7 817.0 L1630.4 817.1 L1642.8 817.2 L1657.1 817.3 L1672.2 817.4 L1687.0 817.5 L1700.3 817.5 L1711.2 817.5 L1718.6 817.5 L1721.3 817.5" stroke="#ff0000" clip-path="url(#c1)"/>
<path d="M262.5 100.0 L262.4 107.0 L262.2 125.8 L261.9 152.8 L261.6 184.6 L261.5 217.7 L261.5 248.6 L261.8 273.9 L262.5 290.0 L262.8 292.7 L263.1 294.9 L263.4 296.7 L263.7 298.3 L264.0 299.9 L264.4 301.4 L264.7 303.1 L265.0 305.0 L265.3 307.7 L265.7 310.7 L266.0 313.7 L266.3 316.8 L266.6 320.0 L266.9 323.1 L267.2 326.1 L267.5 329.0 L267.8 331.5 L268.0 334.0 L268.3 336.5 L268.5 338.9 L268.8 341.3 L269.0 343.6 L269.3 345.8 L269.5 348.0 L269.7 349.6 L269.8 351.2 L270.0 352.7 L270.1 354.2 L270.3 355.7 L270.5 357.1 L270.8 358.6 L271.1 360.0 L271.5 361.4 L271.9 362.9 L272.3 364.3 L272.8 365.8 L273.4 367.2 L274.0 368.6 L274.6 369.9 L275.4 371.2 L276.2 372.6 L277.0 373.9 L277.9 375.3 L278.9 376.6 L280.0 377.8 L281.1 379.0 L282.4 380.0 L283.8 380.9 L285.8 381.9 L288.1 382.6 L290.5 383.2 L293.1 383.6 L295.8 383.9 L298.7 384.2 L301.8 384.4 L304.9 384.7 L310.2 385.2 L315.9 385.5 L322.1 385.8 L328.6 386.0 L335.3 386.1 L342.1 386.3 L348.9 386.5 L355.7 386.9 L363.3 387.3 L371.3 387.9 L379.5 388.5 L387.7 389.1 L395.9 389.7 L403.9 390.4 L411.7 391.0 L419.1 391.5 L424.8 391.9 L430.2 392.3 L435.5 392.6 L440.7 393.0 L445.9 393.3 L451.0 393.7 L456.1 394.0 L461.3 394.5 L466.6 394.9 L471.9 395.4 L477.2 396.0 L482.5 396.5 L487.7 397.0 L493.0 397.6 L498.3 398.2 L503.6 398.7 L508.9 399.2 L514.2 399.7 L519.4 400.3 L524.7 400.8 L530.0 401.3 L535.3 401.9 L540.6 402.4 L545.9 402.9 L551.1 403.4 L556.4 403.9 L561.7 404.3 L567.0 404.8 L572.3 405.3 L577.6 405.8 L582.9 406.4 L588.1 407.1 L593.4 408.0 L598.7 408.9 L604.0 409.8 L609.3 410.9 L614.6 411.9 L619.9 413.1 L625.1 414.3 L630.4 415.6 L635.7 417.0 L641.0 418.4 L646.3 420.0 L651.6 421.6 L656.8 423.2 L662.1 424.9 L667.4 426.6 L672.7 428.3 L678.0 430.1 L683.3 432.0 L688.7 433.9 L694.0 435.9 L699.3 437.8 L704.6 439.7 L709.8 441.5 L714.9 443.1 L719.3 444.3 L723.5 445.5 L727.6 446.5 L731.7 447.5 L735.8 448.4 L740.2 449.4 L744.9 450.4 L750.0 451.5 L758.8 453.4 L768.6 455.3 L779.0 457.3 L790.0 459.4 L801.2 461.6 L812.6 463.8 L823.7 466.1 L834.5 468.4 L845.1 470.9 L855.7 473.4 L866.3 476.0 L876.8 478.7 L887.4 481.5 L897.9 484.2 L908.5 486.9 L919.1 489.6 L929.7 492.2 L940.5 494.9 L951.3 497.6 L962.1 500.2 L972.8 502.9 L983.3 505.5 L993.6 508.1 L1003.6 510.7 L1012.0 512.8 L1020.1 514.9 L1028.1 517.0 L1035.9 519.0 L1043.7 521.0 L1051.4 523.1 L1059.2 525.3 L1067.0 527.6 L1075.0 530.0 L1083.2 532.6 L1091.4 535.2 L1099.6 537.9 L1107.6 540.6 L1115.5 543.3 L1123.1 546.0 L1130.4 548.7 L1136.1 550.9 L1141.6 553.1 L1147.0 555.2 L1152.2 557.4 L1157.3 559.6 L1162.4 561.9 L1167.5 564.3 L1172.7 566.9 L1178.0 569.8 L1183.4 572.8 L1188.8 576.0 L1194.1 579.3 L1199.4 582.6 L1204.7 585.9 L1209.8 589.2 L1214.9 592.3 L1219.6 595.0 L1224.4 597.8 L1229.1 600.6 L1233.8 603.3 L1238.3 606.0 L1242.6 608.5 L1246.5 611.0 L1250.0 613.4 L1251.9 614.8 L1253.7 616.0 L1255.2 617.2 L1256.7 618.4 L1258.1 619.6 L1259.6 620.9 L1261.1 622.3 L1262.7 624.0 L1265.2 626.7 L1267.7 629.8 L1270.4 633.2 L1273.1 636.7 L1275.8 640.4 L1278.5 644.1 L1281.2 647.8 L1283.8 651.4 L1286.5 655.2 L1289.2 659.1 L1291.9 663.1 L1294.6 667.1 L1297.3 670.9 L1299.9 674.6 L1302.5 678.0 L1304.9 681.0 L1306.6 683.0 L1308.2 684.9 L1309.8 686.8 L1311.3 688.5 L1312.9 690.0 L1314.4 691.3 L1316.0 692.3 L1317.6 692.9 L1319.0 693.1 L1320.4 693.1 L1321.8 692.9 L1323.2 692.6 L1324.6 692.1 L1325.9 691.4 L1327.1 690.5 L1328.2 689.5 L1329.7 687.0 L1330.9 683.7 L1331.8 679.7 L1332.4 675.2 L1332.9 670.4 L1333.4 665.4 L1333.9 660.5 L1334.5 655.7 L1335.4 649.8 L1336.2 643.8 L1337.1 637.5 L1337.9 631.1 L1338.6 624.6 L1339.4 618.0 L1340.1 611.5 L1340.9 604.9 L1341.6 598.1 L1342.4 591.0 L1343.1 583.8 L1343.8 576.6 L1344.5 569.6 L1345.1 562.7 L1345.8 556.1 L1346.4 550.0 L1346.7 545.7 L1347.0 541.5 L1347.3 537.4 L1347.6 533.5 L1347.9 529.7 L1348.2 526.1 L1348.7 522.6 L1349.3 519.1 L1349.9 516.5 L1350.5 513.8 L1351.2 511.2 L1351.9 508.7 L1352.8 506.4 L1353.6 504.1 L1354.6 502.0 L1355.7 500.1 L1356.5 498.8 L1357.4 497.5 L1358.4 496.3 L1359.4 495.2 L1360.4 494.2 L1361.6 493.2 L1362.8 492.4 L1364.1 491.7 L1365.8 491.0 L1367.7 490.5 L1369.6 490.1 L1371.7 489.9 L1373.9 489.7 L1376.1 489.6 L1378.5 489.6 L1381.0 489.6 L1384.9 489.6 L1389.1 489.8 L1393.5 490.2 L1398.2 490.7 L1403.0 491.2 L1408.1 491.8 L1413.5 492.4 L1419.1 492.9 L1428.0 493.7 L1437.9 494.6 L1448.3 495.5 L1459.2 496.4 L1470.4 497.4 L1481.7 498.3 L1492.8 499.3 L1503.6 500.1 L1514.2 501.0 L1524.7 501.8 L1535.3 502.6 L1545.9 503.3 L1556.4 504.1 L1567.0 504.9 L1577.6 505.7 L1588.1 506.5 L1598.8 507.3 L1609.8 508.1 L1620.8 509.0 L1631.8 509.8 L1642.7 510.6 L1653.2 511.4 L1663.2 512.1 L1672.7 512.8 L1680.0 513.3 L1688.0 513.8 L1696.1 514.3 L1703.9 514.8 L1710.7 515.2 L1716.3 515.5 L1719.9 515.7 L1721.3 515.8" stroke="#006400" clip-path="url(#c1)"/>
<path d="M262.5 58.0 L262.5 58.5 L262.4 60.0 L262.4 62.2 L262.3 64.9 L262.3 67.8 L262.3 70.8 L262.4 73.6 L262.5 76.0 L262.7 77.9 L263.0 79.8 L263.3 81.6 L263.6 83.4 L264.0 85.2 L264.4 87.0 L264.7 89.0 L265.0 91.0 L265.3 93.7 L265.7 96.7 L266.0 99.7 L266.3 102.8 L266.6 106.0 L266.9 109.1 L267.2 112.1 L267.5 115.0 L267.8 117.5 L268.0 120.0 L268.3 122.4 L268.5 124.8 L268.8 127.1 L269.0 129.5 L269.3 131.7 L269.5 134.0 L269.7 136.0 L269.8 137.9 L269.9 139.9 L270.0 141.8 L270.1 143.6 L270.3 145.5 L270.6 147.3 L271.0 149.0 L271.4 150.6 L271.9 152.2 L272.5 153.8 L273.1 155.3 L273.7 156.8 L274.5 158.2 L275.3 159.5 L276.2 160.7 L277.2 161.8 L278.2 162.8 L279.4 163.7 L280.6 164.6 L281.9 165.4 L283.2 166.1 L284.5 166.8 L285.9 167.5 L287.5 168.2 L289.1 168.8 L290.8 169.3 L292.5 169.8 L294.3 170.2 L296.2 170.6 L298.4 170.9 L300.7 171.3 L305.9 171.9 L311.9 172.3 L318.6 172.6 L325.7 172.8 L333.2 172.9 L340.8 173.1 L348.4 173.2 L355.7 173.4 L363.5 173.7 L371.5 173.9 L379.7 174.1 L387.9 174.3 L396.0 174.5 L404.0 174.8 L411.7 175.1 L419.1 175.5 L424.8 175.9 L430.2 176.4 L435.5 176.9 L440.7 177.4 L445.9 178.0 L451.0 178.6 L456.1 179.2 L461.3 179.8 L466.6 180.4 L471.9 181.1 L477.2 181.8 L482.5 182.5 L487.7 183.2 L493.0 183.9 L498.3 184.6 L503.6 185.2 L508.9 185.8 L514.2 186.3 L519.4 186.8 L524.7 187.3 L530.0 187.8 L535.3 188.3 L540.6 188.9 L545.9 189.5 L551.1 190.2 L556.4 190.9 L561.7 191.6 L567.0 192.4 L572.3 193.2 L577.6 194.0 L582.8 194.9 L588.1 195.8 L593.4 196.7 L598.7 197.7 L604.0 198.6 L609.3 199.6 L614.6 200.6 L619.9 201.7 L625.1 202.9 L630.4 204.3 L635.7 205.8 L641.0 207.4 L646.3 209.1 L651.6 210.9 L656.8 212.8 L662.1 214.6 L667.4 216.5 L672.7 218.2 L678.0 220.0 L683.3 221.7 L688.7 223.5 L694.0 225.3 L699.3 227.0 L704.6 228.7 L709.8 230.3 L714.9 231.7 L719.3 232.9 L723.5 234.0 L727.6 235.0 L731.7 235.9 L735.9 236.9 L740.2 237.9 L744.9 239.0 L750.0 240.2 L758.8 242.4 L768.6 244.8 L779.0 247.4 L790.0 250.1 L801.2 252.9 L812.5 255.8 L823.7 258.6 L834.5 261.3 L845.1 264.0 L855.7 266.8 L866.2 269.6 L876.8 272.4 L887.4 275.1 L897.9 277.9 L908.5 280.6 L919.1 283.3 L929.7 285.9 L940.5 288.6 L951.3 291.2 L962.1 293.8 L972.8 296.3 L983.3 298.8 L993.6 301.2 L1003.6 303.6 L1012.0 305.6 L1020.1 307.5 L1028.0 309.3 L1035.9 311.1 L1043.6 313.0 L1051.4 314.7 L1059.1 316.6 L1067.0 318.4 L1075.0 320.2 L1083.2 321.9 L1091.4 323.7 L1099.6 325.4 L1107.6 327.2 L1115.5 329.1 L1123.1 331.0 L1130.4 333.2 L1136.1 335.1 L1141.7 337.1 L1147.0 339.1 L1152.2 341.3 L1157.3 343.4 L1162.3 345.6 L1167.5 347.9 L1172.7 350.1 L1178.0 352.4 L1183.3 354.8 L1188.7 357.2 L1194.0 359.6 L1199.4 362.1 L1204.6 364.5 L1209.8 366.8 L1214.9 369.1 L1219.5 371.1 L1224.0 373.1 L1228.5 375.0 L1233.0 377.0 L1237.4 378.8 L1241.7 380.6 L1245.9 382.3 L1250.0 383.9 L1253.4 385.1 L1256.8 386.1 L1260.1 387.1 L1263.3 388.0 L1266.5 388.9 L1269.6 389.9 L1272.5 391.0 L1275.4 392.3 L1277.7 393.6 L1280.0 395.0 L1282.1 396.4 L1284.2 397.9 L1286.2 399.4 L1288.2 401.1 L1290.2 403.0 L1292.3 405.0 L1295.0 408.0 L1297.7 411.5 L1300.4 415.2 L1303.0 419.1 L1305.7 423.1 L1308.3 427.1 L1310.9 431.0 L1313.4 434.6 L1315.6 437.7 L1317.8 440.9 L1319.9 444.1 L1322.1 447.2 L1324.2 450.2 L1326.2 453.0 L1328.3 455.6 L1330.3 457.9 L1331.7 459.3 L1333.0 460.9 L1334.4 462.3 L1335.7 463.7 L1337.0 464.9 L1338.3 465.7 L1339.6 466.2 L1340.9 466.3 L1342.3 465.8 L1343.8 464.6 L1345.2 463.0 L1346.6 461.0 L1347.9 458.7 L1349.2 456.3 L1350.4 453.9 L1351.4 451.5 L1352.6 448.4 L1353.6 445.1 L1354.5 441.5 L1355.2 437.8 L1355.8 434.0 L1356.4 430.0 L1357.1 426.0 L1357.8 421.9 L1358.6 417.0 L1359.5 411.9 L1360.2 406.7 L1361.0 401.3 L1361.8 395.9 L1362.6 390.4 L1363.3 385.0 L1364.1 379.7 L1364.9 374.4 L1365.7 369.1 L1366.5 363.7 L1367.3 358.4 L1368.1 353.1 L1368.8 347.8 L1369.6 342.6 L1370.5 337.4 L1371.2 332.5 L1372.0 327.5 L1372.7 322.5 L1373.5 317.5 L1374.2 312.7 L1375.0 308.0 L1375.9 303.6 L1376.8 299.4 L1377.5 296.4 L1378.2 293.4 L1378.9 290.6 L1379.6 287.9 L1380.3 285.2 L1381.2 282.8 L1382.1 280.4 L1383.1 278.2 L1384.0 276.6 L1384.9 275.1 L1385.9 273.6 L1386.9 272.2 L1388.0 270.9 L1389.1 269.7 L1390.3 268.6 L1391.6 267.7 L1392.9 266.8 L1394.3 266.1 L1395.7 265.5 L1397.2 265.0 L1398.8 264.5 L1400.5 264.1 L1402.3 263.8 L1404.3 263.4 L1407.8 263.0 L1411.6 262.8 L1415.7 262.8 L1420.1 262.8 L1424.8 263.0 L1429.7 263.2 L1434.9 263.3 L1440.2 263.4 L1449.1 263.6 L1458.8 263.8 L1469.3 264.0 L1480.2 264.3 L1491.5 264.6 L1502.8 264.9 L1513.9 265.2 L1524.7 265.6 L1535.4 265.9 L1546.1 266.3 L1557.0 266.8 L1567.8 267.2 L1578.4 267.7 L1589.0 268.1 L1599.3 268.6 L1609.3 268.9 L1617.7 269.2 L1625.9 269.5 L1634.1 269.8 L1642.0 270.1 L1649.9 270.3 L1657.6 270.6 L1665.2 270.8 L1672.7 271.0 L1679.7 271.3 L1687.5 271.6 L1695.6 271.8 L1703.4 272.1 L1710.4 272.4 L1716.1 272.6 L1719.9 272.7 L1721.3 272.7" stroke="#0000cd" clip-path="url(#c1)"/>
</g>
<rect x="260" y="56.5" width="1461" height="1458" fill="none" stroke="#000" stroke-width="10"/>
<g text-rendering="geometricPrecision" shape-rendering="auto">
<text><tspan x="946.94" y="164.40" font-size="77.00" textLength="78.06" lengthAdjust="spacingAndGlyphs">10</tspan><tspan x="1024.90" y="126.43" font-size="46.58" textLength="28.84" lengthAdjust="spacingAndGlyphs">o</tspan><tspan x="1052.46" y="164.40" font-size="77.00" textLength="195.41" lengthAdjust="spacingAndGlyphs">C/min</tspan></text>
<line x1="955.7" y1="199.5" x2="1215" y2="199.5" stroke="#000" stroke-width="2.2"/>
<path d="M1239 199.5 L1199 182.5 L1213 199.5 L1201 213.6 Z" fill="#000"/>
<text transform="translate(1483.92 241.20) scale(1.0559 1)" font-size="58">uEVA</text>
<text transform="translate(1494.51 467.60) scale(1.0110 1)" font-size="58">cEVA</text>
<text transform="translate(1482.83 653.50) scale(0.9884 1)" font-size="58">nTPV</text>
<text transform="translate(1485.11 793.00) scale(0.9955 1)" font-size="58">sTPV</text>
<text transform="translate(1490.53 970.50) scale(1.0008 1)" font-size="58">aTPV</text>
<text transform="translate(1520.84 1225.40) scale(1.0231 1)" font-size="58">uNR</text>
<text transform="translate(1526.53 1411.40) scale(1.0010 1)" font-size="58">cNR</text>
<text transform="translate(184.39 1598.50) scale(0.9932 1)" font-size="76.4">-100</text>
<text transform="translate(496.35 1598.50) scale(0.9741 1)" font-size="76.4">-50</text>
<text transform="translate(820.12 1598.50) scale(1.0416 1)" font-size="76.4">0</text>
<text transform="translate(1094.15 1598.50) scale(0.9647 1)" font-size="76.4">50</text>
<text transform="translate(1366.65 1598.50) scale(0.9343 1)" font-size="76.4">100</text>
<text transform="translate(1660.82 1598.50) scale(0.9385 1)" font-size="76.4">150</text>
<text font-weight="bold"><tspan x="664.18" y="1730.70" font-size="81.50" textLength="538.28" lengthAdjust="spacingAndGlyphs">Temperature (</tspan><tspan x="1206.04" y="1686.74" font-size="56.07" textLength="32.92" lengthAdjust="spacingAndGlyphs">o</tspan><tspan x="1238.74" y="1730.70" font-size="81.50" textLength="85.95" lengthAdjust="spacingAndGlyphs">C)</tspan></text>
<text transform="translate(108.00 1089.80) rotate(-90) scale(0.9888 1) translate(-5.53 0)" font-size="82" font-weight="bold">Heat flow (exo up)</text>
<g class="cap"><text><tspan x="771.32" y="1934.29" font-size="77.25" textLength="26.51" lengthAdjust="spacingAndGlyphs">(</tspan><tspan x="798.13" y="1941.94" font-size="85.62" textLength="41.10" lengthAdjust="spacingAndGlyphs">a</tspan><tspan x="839.48" y="1934.29" font-size="77.25" textLength="25.86" lengthAdjust="spacingAndGlyphs">)</tspan></text></g>
</g>
<g class="c">
<path d="M260.6 2515.8 L261.4 2515.8 L263.7 2515.7 L267.1 2515.7 L271.5 2515.6 L276.5 2515.5 L281.8 2515.3 L287.1 2515.1 L292.3 2514.9 L300.9 2514.4 L310.5 2513.8 L321.0 2513.0 L332.0 2512.1 L343.3 2511.2 L354.7 2510.3 L366.0 2509.4 L376.8 2508.6 L387.4 2507.8 L397.9 2507.0 L408.5 2506.2 L419.1 2505.4 L429.6 2504.6 L440.2 2503.8 L450.8 2503.0 L461.3 2502.2 L472.0 2501.5 L482.7 2500.7 L493.6 2499.9 L504.4 2499.1 L515.1 2498.4 L525.6 2497.6 L535.9 2496.7 L545.9 2495.9 L554.2 2495.2 L562.4 2494.5 L570.3 2493.8 L578.1 2493.0 L585.9 2492.3 L593.6 2491.5 L601.4 2490.6 L609.3 2489.6 L617.3 2488.4 L625.4 2487.2 L633.6 2485.9 L641.8 2484.5 L649.8 2483.1 L657.7 2481.7 L665.4 2480.3 L672.7 2479.0 L678.4 2477.9 L683.9 2476.8 L689.3 2475.6 L694.6 2474.5 L699.7 2473.4 L704.8 2472.4 L709.9 2471.4 L714.9 2470.5 L719.3 2469.9 L723.6 2469.4 L727.6 2468.9 L731.7 2468.5 L735.9 2468.1 L740.3 2467.7 L744.9 2467.1 L750.0 2466.3 L758.8 2464.8 L768.6 2462.9 L779.0 2460.8 L790.0 2458.5 L801.2 2456.1 L812.5 2453.8 L823.7 2451.5 L834.5 2449.4 L845.2 2447.5 L855.9 2445.6 L866.8 2443.7 L877.6 2441.9 L888.3 2440.1 L898.8 2438.3 L909.1 2436.4 L919.1 2434.6 L927.5 2433.0 L935.9 2431.4 L944.1 2429.9 L952.2 2428.3 L960.1 2426.7 L967.7 2425.1 L975.2 2423.5 L982.5 2421.9 L988.2 2420.6 L993.8 2419.3 L999.3 2417.9 L1004.6 2416.5 L1009.8 2415.2 L1014.9 2413.9 L1019.9 2412.6 L1024.7 2411.4 L1028.7 2410.4 L1032.5 2409.4 L1036.3 2408.4 L1040.0 2407.4 L1043.6 2406.5 L1047.2 2405.6 L1050.7 2404.9 L1054.3 2404.2 L1057.5 2403.7 L1060.6 2403.2 L1063.7 2402.9 L1066.8 2402.6 L1069.9 2402.3 L1073.0 2402.1 L1076.3 2401.9 L1079.7 2401.6 L1084.1 2401.5 L1088.6 2401.4 L1093.4 2401.4 L1098.2 2401.4 L1103.1 2401.4 L1108.0 2401.3 L1112.9 2401.2 L1117.7 2400.8 L1122.5 2400.3 L1127.4 2399.7 L1132.4 2399.0 L1137.3 2398.2 L1142.1 2397.4 L1146.8 2396.5 L1151.4 2395.5 L1155.7 2394.5 L1159.2 2393.6 L1162.7 2392.7 L1166.0 2391.9 L1169.2 2390.9 L1172.4 2389.9 L1175.4 2388.8 L1178.3 2387.5 L1181.1 2386.0 L1183.6 2384.5 L1185.9 2383.0 L1188.2 2381.3 L1190.4 2379.5 L1192.5 2377.6 L1194.4 2375.6 L1196.3 2373.5 L1198.0 2371.2 L1199.8 2368.5 L1201.4 2365.6 L1202.8 2362.5 L1204.1 2359.3 L1205.3 2355.9 L1206.5 2352.6 L1207.5 2349.2 L1208.6 2345.9 L1209.6 2342.4 L1210.5 2338.9 L1211.3 2335.3 L1212.0 2331.7 L1212.7 2328.1 L1213.3 2324.6 L1213.9 2321.2 L1214.5 2318.0 L1214.9 2315.6 L1215.3 2313.4 L1215.7 2311.3 L1216.0 2309.3 L1216.3 2307.2 L1216.6 2305.0 L1216.9 2302.6 L1217.2 2300.0 L1217.7 2295.1 L1218.2 2289.7 L1218.7 2283.7 L1219.1 2277.5 L1219.6 2271.1 L1220.1 2264.8 L1220.5 2258.7 L1221.0 2253.0 L1221.4 2248.4 L1221.8 2243.9 L1222.1 2239.4 L1222.5 2235.1 L1222.8 2230.8 L1223.2 2226.5 L1223.7 2222.3 L1224.2 2218.0 L1224.8 2213.8 L1225.4 2209.6 L1226.1 2205.3 L1226.8 2201.1 L1227.5 2197.0 L1228.2 2192.9 L1228.9 2188.9 L1229.5 2185.0 L1230.0 2181.7 L1230.5 2178.4 L1231.1 2175.2 L1231.6 2172.1 L1232.0 2169.0 L1232.5 2165.9 L1233.0 2162.9 L1233.5 2160.0 L1233.9 2157.3 L1234.2 2154.4 L1234.5 2151.4 L1234.8 2148.6 L1235.2 2146.0 L1235.6 2143.7 L1236.1 2142.0 L1236.8 2141.0 L1237.1 2140.8 L1237.4 2140.7 L1237.7 2140.6 L1238.0 2140.6 L1238.3 2140.6 L1238.6 2140.7 L1238.9 2140.8 L1239.2 2141.0 L1239.9 2142.0 L1240.4 2143.7 L1240.8 2145.9 L1241.2 2148.6 L1241.5 2151.4 L1241.8 2154.4 L1242.2 2157.3 L1242.5 2160.0 L1242.9 2162.9 L1243.3 2165.9 L1243.7 2169.0 L1244.1 2172.1 L1244.5 2175.2 L1244.8 2178.4 L1245.2 2181.7 L1245.5 2185.0 L1245.9 2188.9 L1246.2 2192.8 L1246.5 2196.8 L1246.8 2200.9 L1247.1 2205.1 L1247.4 2209.3 L1247.7 2213.6 L1248.0 2218.0 L1248.4 2223.1 L1248.8 2228.4 L1249.3 2233.8 L1249.7 2239.3 L1250.2 2244.8 L1250.6 2250.3 L1251.1 2255.7 L1251.5 2261.0 L1251.9 2265.9 L1252.3 2270.8 L1252.8 2275.6 L1253.2 2280.4 L1253.6 2285.2 L1254.0 2290.1 L1254.4 2295.0 L1254.8 2300.0 L1255.2 2305.5 L1255.5 2311.1 L1255.9 2316.8 L1256.2 2322.5 L1256.5 2328.3 L1256.8 2334.1 L1257.2 2340.0 L1257.6 2346.0 L1258.1 2352.7 L1258.5 2359.7 L1259.0 2366.8 L1259.5 2373.9 L1260.0 2381.0 L1260.6 2387.9 L1261.2 2394.6 L1261.8 2400.8 L1262.3 2405.5 L1262.8 2410.1 L1263.3 2414.6 L1263.8 2419.0 L1264.4 2423.2 L1265.1 2427.3 L1265.9 2431.1 L1266.9 2434.6 L1267.7 2437.2 L1268.5 2439.7 L1269.4 2442.1 L1270.3 2444.4 L1271.3 2446.5 L1272.5 2448.4 L1273.8 2450.1 L1275.4 2451.5 L1277.0 2452.6 L1278.7 2453.3 L1280.6 2453.8 L1282.6 2454.2 L1284.7 2454.4 L1287.1 2454.5 L1289.6 2454.7 L1292.3 2454.9 L1298.2 2455.3 L1305.3 2455.4 L1313.1 2455.3 L1321.4 2455.1 L1330.1 2454.8 L1338.9 2454.4 L1347.5 2454.0 L1355.7 2453.6 L1363.4 2453.2 L1371.0 2452.7 L1378.5 2452.2 L1386.0 2451.6 L1393.7 2451.0 L1401.7 2450.4 L1410.1 2449.8 L1419.1 2449.4 L1433.0 2448.9 L1448.3 2448.6 L1464.5 2448.3 L1481.3 2448.1 L1498.3 2447.9 L1514.9 2447.8 L1530.9 2447.6 L1545.9 2447.3 L1557.4 2447.1 L1568.9 2446.8 L1580.1 2446.6 L1591.0 2446.4 L1601.6 2446.2 L1611.7 2445.9 L1621.3 2445.6 L1630.4 2445.2 L1636.5 2444.8 L1642.4 2444.4 L1648.1 2444.0 L1653.6 2443.6 L1658.8 2443.1 L1663.8 2442.7 L1668.4 2442.4 L1672.7 2442.2 L1675.2 2442.1 L1677.5 2441.9 L1679.8 2441.7 L1681.9 2441.6 L1683.9 2441.5 L1685.9 2441.6 L1687.7 2441.8 L1689.6 2442.2 L1691.1 2442.8 L1692.6 2443.4 L1694.0 2444.1 L1695.4 2445.0 L1696.7 2445.9 L1697.9 2447.0 L1699.1 2448.1 L1700.1 2449.4 L1701.3 2451.2 L1702.3 2453.2 L1703.2 2455.4 L1703.9 2457.8 L1704.6 2460.3 L1705.3 2462.9 L1705.9 2465.6 L1706.5 2468.4 L1707.3 2472.5 L1707.9 2476.9 L1708.5 2481.6 L1709.0 2486.4 L1709.5 2491.4 L1709.9 2496.4 L1710.3 2501.5 L1710.7 2506.5 L1711.1 2511.7 L1711.4 2516.9 L1711.7 2522.2 L1711.9 2527.5 L1712.1 2532.9 L1712.4 2538.5 L1712.6 2544.1 L1712.8 2550.0 L1713.1 2557.4 L1713.4 2565.0 L1713.6 2572.9 L1713.9 2581.0 L1714.1 2589.1 L1714.4 2597.3 L1714.7 2605.4 L1714.9 2613.4 L1715.2 2621.4 L1715.4 2629.5 L1715.7 2637.7 L1715.9 2645.9 L1716.2 2654.0 L1716.5 2661.8 L1716.7 2669.5 L1717.0 2676.8 L1717.3 2683.1 L1717.6 2689.9 L1718.0 2697.0 L1718.3 2703.7 L1718.6 2709.8 L1718.9 2714.6 L1719.1 2717.9 L1719.1 2719.1" stroke="#0000cd" clip-path="url(#c2)"/>
<path d="M260.6 2816.3 L262.0 2816.1 L265.9 2815.8 L271.8 2815.3 L279.2 2814.7 L287.6 2814.0 L296.4 2813.3 L305.2 2812.6 L313.4 2812.0 L324.9 2811.4 L337.5 2810.7 L350.9 2810.1 L364.7 2809.5 L378.7 2808.9 L392.6 2808.3 L406.2 2807.6 L419.1 2807.0 L430.1 2806.4 L440.9 2805.8 L451.5 2805.2 L461.9 2804.6 L472.3 2804.0 L482.7 2803.4 L493.1 2802.7 L503.6 2801.9 L514.2 2801.1 L525.0 2800.3 L535.8 2799.4 L546.6 2798.6 L557.3 2797.6 L567.9 2796.6 L578.2 2795.5 L588.1 2794.3 L596.5 2793.1 L604.6 2791.9 L612.6 2790.6 L620.4 2789.2 L628.2 2787.9 L635.9 2786.5 L643.7 2785.1 L651.5 2783.7 L659.6 2782.4 L667.8 2781.0 L676.1 2779.6 L684.4 2778.2 L692.5 2776.8 L700.4 2775.5 L707.9 2774.3 L714.9 2773.2 L719.7 2772.4 L724.1 2771.8 L728.2 2771.2 L732.2 2770.7 L736.2 2770.1 L740.4 2769.5 L745.0 2768.9 L750.0 2768.1 L758.8 2766.7 L768.6 2765.0 L779.0 2763.1 L790.0 2761.2 L801.2 2759.2 L812.5 2757.3 L823.7 2755.4 L834.5 2753.7 L845.2 2752.2 L855.9 2750.7 L866.8 2749.4 L877.6 2748.0 L888.3 2746.7 L898.8 2745.3 L909.1 2743.9 L919.1 2742.3 L927.4 2740.9 L935.6 2739.4 L943.5 2737.8 L951.4 2736.3 L959.1 2734.6 L966.8 2733.0 L974.6 2731.3 L982.5 2729.6 L990.5 2727.9 L998.6 2726.1 L1006.8 2724.3 L1015.0 2722.5 L1023.1 2720.6 L1031.0 2718.7 L1038.6 2716.8 L1045.9 2714.8 L1051.6 2713.2 L1057.0 2711.4 L1062.3 2709.6 L1067.5 2707.8 L1072.6 2706.0 L1077.7 2704.3 L1082.9 2702.7 L1088.1 2701.3 L1093.5 2700.1 L1099.0 2699.1 L1104.6 2698.2 L1110.2 2697.4 L1115.6 2696.6 L1120.9 2695.8 L1125.8 2694.8 L1130.4 2693.7 L1133.5 2692.8 L1136.4 2691.9 L1139.1 2691.1 L1141.7 2690.1 L1144.3 2689.1 L1146.8 2688.0 L1149.2 2686.7 L1151.5 2685.2 L1153.9 2683.6 L1156.2 2681.8 L1158.5 2679.9 L1160.6 2677.8 L1162.7 2675.6 L1164.7 2673.3 L1166.6 2670.9 L1168.4 2668.3 L1170.4 2665.2 L1172.3 2661.8 L1174.0 2658.2 L1175.6 2654.5 L1177.1 2650.7 L1178.5 2646.7 L1179.8 2642.8 L1181.1 2638.8 L1182.4 2634.3 L1183.5 2629.8 L1184.5 2625.2 L1185.4 2620.5 L1186.2 2615.7 L1187.1 2610.8 L1187.9 2605.8 L1188.7 2600.7 L1189.7 2594.7 L1190.7 2588.3 L1191.7 2581.7 L1192.6 2575.1 L1193.5 2568.5 L1194.4 2562.0 L1195.2 2555.8 L1195.9 2550.0 L1196.4 2545.7 L1196.9 2541.7 L1197.3 2537.9 L1197.7 2534.2 L1198.1 2530.4 L1198.5 2526.6 L1198.9 2522.6 L1199.3 2518.3 L1199.8 2512.4 L1200.3 2506.0 L1200.7 2499.3 L1201.1 2492.4 L1201.6 2485.6 L1202.1 2479.1 L1202.6 2473.0 L1203.1 2467.6 L1203.5 2464.3 L1203.9 2461.2 L1204.4 2458.3 L1204.8 2455.5 L1205.2 2452.8 L1205.7 2450.1 L1206.1 2447.6 L1206.5 2445.0 L1206.8 2442.8 L1207.0 2440.5 L1207.2 2438.1 L1207.3 2435.8 L1207.6 2433.7 L1207.9 2431.9 L1208.3 2430.5 L1208.8 2429.7 L1209.1 2429.5 L1209.4 2429.4 L1209.7 2429.3 L1210.0 2429.3 L1210.3 2429.3 L1210.6 2429.4 L1210.9 2429.5 L1211.2 2429.7 L1211.7 2430.5 L1212.2 2431.9 L1212.5 2433.7 L1212.7 2435.8 L1212.9 2438.1 L1213.1 2440.4 L1213.3 2442.8 L1213.5 2445.0 L1213.8 2447.6 L1214.1 2450.1 L1214.5 2452.8 L1214.8 2455.5 L1215.1 2458.3 L1215.3 2461.2 L1215.6 2464.3 L1215.9 2467.6 L1216.3 2473.0 L1216.6 2479.1 L1216.9 2485.7 L1217.2 2492.4 L1217.5 2499.3 L1217.8 2506.0 L1218.1 2512.4 L1218.5 2518.3 L1218.8 2522.5 L1219.1 2526.4 L1219.5 2530.1 L1219.8 2533.7 L1220.2 2537.3 L1220.6 2541.2 L1220.9 2545.4 L1221.3 2550.0 L1221.8 2558.6 L1222.3 2568.4 L1222.9 2578.9 L1223.4 2590.0 L1223.9 2601.4 L1224.4 2612.8 L1224.9 2623.9 L1225.5 2634.5 L1226.0 2644.4 L1226.4 2654.6 L1226.8 2664.7 L1227.3 2674.7 L1227.8 2684.5 L1228.3 2693.8 L1229.0 2702.6 L1229.7 2710.6 L1230.2 2715.6 L1230.8 2720.5 L1231.3 2725.2 L1231.8 2729.7 L1232.5 2733.8 L1233.2 2737.7 L1234.1 2741.3 L1235.2 2744.4 L1235.9 2746.2 L1236.7 2747.8 L1237.6 2749.3 L1238.5 2750.7 L1239.4 2751.9 L1240.3 2753.1 L1241.4 2754.1 L1242.4 2755.0 L1243.2 2755.6 L1244.0 2756.1 L1244.7 2756.5 L1245.5 2756.9 L1246.4 2757.2 L1247.4 2757.4 L1248.6 2757.7 L1250.0 2757.9 L1256.2 2758.6 L1264.7 2758.7 L1275.0 2758.6 L1286.5 2758.2 L1298.8 2757.6 L1311.3 2757.0 L1323.3 2756.4 L1334.5 2755.8 L1345.0 2755.3 L1355.4 2754.7 L1365.8 2754.0 L1376.2 2753.3 L1386.7 2752.6 L1397.3 2751.9 L1408.0 2751.3 L1419.1 2750.8 L1431.7 2750.2 L1444.6 2749.8 L1457.8 2749.3 L1471.2 2748.9 L1484.6 2748.6 L1498.0 2748.3 L1511.4 2748.0 L1524.7 2747.8 L1538.1 2747.7 L1551.9 2747.6 L1565.7 2747.6 L1579.5 2747.6 L1593.0 2747.7 L1606.1 2747.7 L1618.6 2747.8 L1630.4 2747.8 L1639.0 2747.6 L1647.6 2747.2 L1656.1 2746.7 L1664.2 2746.3 L1671.9 2746.0 L1678.8 2746.1 L1684.7 2746.6 L1689.6 2747.8 L1691.4 2748.5 L1693.0 2749.3 L1694.4 2750.2 L1695.6 2751.1 L1696.7 2752.2 L1697.8 2753.4 L1698.7 2754.7 L1699.7 2756.3 L1701.1 2759.0 L1702.2 2762.1 L1703.1 2765.7 L1703.9 2769.5 L1704.6 2773.6 L1705.2 2777.8 L1705.8 2782.2 L1706.5 2786.7 L1707.3 2793.1 L1708.1 2799.8 L1708.7 2807.0 L1709.3 2814.4 L1709.8 2822.0 L1710.2 2829.9 L1710.7 2837.8 L1711.1 2845.9 L1711.6 2855.8 L1712.1 2866.1 L1712.5 2876.8 L1712.8 2887.7 L1713.1 2898.6 L1713.4 2909.5 L1713.8 2920.1 L1714.1 2930.4 L1714.4 2940.4 L1714.7 2951.6 L1715.1 2963.2 L1715.4 2974.4 L1715.7 2984.5 L1716.0 2992.7 L1716.1 2998.1 L1716.2 3000.1" stroke="#006400" clip-path="url(#c2)"/>
<path d="M260.6 3018.3 L262.1 3018.2 L266.2 3018.0 L272.4 3017.6 L280.1 3017.1 L288.6 3016.6 L297.4 3016.0 L305.8 3015.4 L313.4 3014.9 L321.1 3014.4 L329.0 3013.8 L337.1 3013.2 L345.2 3012.5 L353.3 3011.9 L361.3 3011.2 L369.2 3010.5 L376.8 3009.8 L383.5 3009.2 L390.1 3008.7 L396.7 3008.1 L403.2 3007.5 L409.5 3006.8 L415.7 3006.1 L421.7 3005.3 L427.5 3004.4 L432.1 3003.4 L436.6 3002.4 L440.9 3001.3 L445.2 3000.1 L449.3 2998.9 L453.4 2997.8 L457.4 2996.8 L461.3 2995.9 L464.6 2995.2 L467.7 2994.6 L470.6 2994.1 L473.5 2993.5 L476.5 2993.1 L479.7 2992.6 L483.0 2992.1 L486.7 2991.7 L492.8 2991.0 L499.5 2990.5 L506.6 2989.9 L514.1 2989.5 L521.8 2989.0 L529.7 2988.5 L537.8 2988.0 L545.9 2987.4 L555.7 2986.7 L565.9 2986.0 L576.5 2985.3 L587.2 2984.5 L598.0 2983.7 L608.9 2982.9 L619.7 2982.0 L630.4 2981.1 L641.2 2980.1 L652.4 2979.0 L663.7 2977.9 L674.9 2976.7 L685.9 2975.6 L696.4 2974.5 L706.1 2973.5 L714.9 2972.7 L719.9 2972.2 L724.4 2971.8 L728.5 2971.5 L732.5 2971.2 L736.4 2970.9 L740.5 2970.6 L745.0 2970.2 L750.0 2969.7 L758.8 2968.7 L768.6 2967.6 L779.0 2966.3 L790.0 2964.9 L801.2 2963.4 L812.5 2962.0 L823.7 2960.5 L834.5 2959.1 L845.1 2957.7 L855.7 2956.3 L866.2 2954.9 L876.8 2953.4 L887.3 2952.0 L897.9 2950.6 L908.5 2949.3 L919.1 2948.1 L929.7 2947.0 L940.5 2946.0 L951.3 2945.1 L962.1 2944.2 L972.8 2943.3 L983.3 2942.5 L993.6 2941.7 L1003.6 2941.0 L1012.0 2940.3 L1020.1 2939.8 L1028.0 2939.2 L1035.9 2938.7 L1043.6 2938.2 L1051.4 2937.7 L1059.1 2937.2 L1067.0 2936.7 L1075.0 2936.2 L1083.1 2935.7 L1091.3 2935.2 L1099.5 2934.7 L1107.6 2934.2 L1115.4 2933.6 L1123.1 2933.1 L1130.4 2932.5 L1136.2 2932.0 L1141.8 2931.6 L1147.4 2931.2 L1152.8 2930.7 L1158.0 2930.2 L1163.1 2929.7 L1168.0 2929.0 L1172.7 2928.3 L1176.2 2927.6 L1179.8 2926.9 L1183.2 2926.2 L1186.5 2925.5 L1189.7 2924.7 L1192.7 2923.8 L1195.5 2922.9 L1198.0 2921.9 L1199.5 2921.3 L1200.9 2920.6 L1202.2 2920.0 L1203.4 2919.3 L1204.6 2918.5 L1205.7 2917.8 L1206.8 2916.9 L1208.0 2916.0 L1209.4 2914.9 L1210.8 2913.7 L1212.1 2912.5 L1213.5 2911.2 L1214.8 2909.8 L1216.1 2908.3 L1217.3 2906.7 L1218.5 2905.0 L1219.9 2902.6 L1221.2 2900.0 L1222.4 2897.1 L1223.5 2894.2 L1224.5 2891.1 L1225.6 2887.9 L1226.5 2884.7 L1227.5 2881.4 L1228.6 2877.5 L1229.6 2873.3 L1230.5 2869.0 L1231.4 2864.6 L1232.2 2860.2 L1233.1 2855.9 L1233.9 2851.6 L1234.7 2847.6 L1235.4 2844.2 L1236.1 2840.9 L1236.8 2837.6 L1237.4 2834.4 L1238.1 2831.2 L1238.7 2828.1 L1239.4 2825.0 L1240.0 2822.0 L1240.5 2819.3 L1241.0 2816.3 L1241.4 2813.3 L1241.8 2810.4 L1242.3 2807.7 L1242.8 2805.4 L1243.4 2803.7 L1244.2 2802.6 L1244.5 2802.4 L1244.9 2802.2 L1245.3 2802.1 L1245.7 2802.1 L1246.1 2802.1 L1246.5 2802.2 L1246.9 2802.4 L1247.2 2802.6 L1248.0 2803.7 L1248.6 2805.4 L1249.2 2807.7 L1249.6 2810.4 L1250.1 2813.3 L1250.5 2816.3 L1251.0 2819.3 L1251.5 2822.0 L1252.2 2825.0 L1252.8 2828.1 L1253.5 2831.2 L1254.2 2834.3 L1255.0 2837.6 L1255.7 2840.9 L1256.3 2844.2 L1257.0 2847.6 L1257.7 2851.6 L1258.5 2855.7 L1259.2 2859.9 L1259.9 2864.2 L1260.6 2868.5 L1261.3 2872.8 L1262.0 2877.1 L1262.6 2881.4 L1263.2 2885.6 L1263.7 2889.9 L1264.2 2894.2 L1264.7 2898.5 L1265.2 2902.8 L1265.8 2907.0 L1266.5 2911.0 L1267.2 2915.0 L1268.0 2918.5 L1268.8 2921.9 L1269.7 2925.3 L1270.6 2928.6 L1271.5 2931.9 L1272.5 2935.0 L1273.4 2937.9 L1274.4 2940.6 L1275.1 2942.4 L1275.7 2944.2 L1276.3 2945.9 L1276.9 2947.5 L1277.6 2949.0 L1278.3 2950.4 L1279.1 2951.8 L1280.0 2953.0 L1280.8 2954.0 L1281.5 2954.9 L1282.3 2955.7 L1283.1 2956.5 L1284.0 2957.2 L1285.1 2957.8 L1286.4 2958.4 L1288.0 2959.0 L1295.4 2960.4 L1305.9 2961.0 L1318.8 2961.0 L1333.5 2960.5 L1349.3 2959.8 L1365.8 2959.0 L1382.2 2958.3 L1397.9 2957.9 L1417.6 2957.6 L1438.6 2957.2 L1460.4 2956.7 L1482.7 2956.3 L1504.9 2955.8 L1526.7 2955.5 L1547.5 2955.1 L1567.0 2954.9 L1582.0 2954.7 L1597.2 2954.4 L1612.2 2954.1 L1626.7 2953.9 L1640.4 2953.8 L1652.9 2953.9 L1663.7 2954.2 L1672.7 2954.9 L1675.8 2955.2 L1678.7 2955.5 L1681.3 2955.8 L1683.7 2956.2 L1685.8 2956.7 L1687.9 2957.3 L1689.8 2958.1 L1691.7 2959.1 L1693.4 2960.3 L1694.9 2961.7 L1696.4 2963.1 L1697.7 2964.8 L1699.0 2966.5 L1700.1 2968.5 L1701.2 2970.5 L1702.2 2972.7 L1703.5 2976.0 L1704.6 2979.8 L1705.5 2983.9 L1706.3 2988.2 L1706.9 2992.7 L1707.5 2997.3 L1708.0 3001.9 L1708.6 3006.5 L1709.2 3011.6 L1709.6 3016.8 L1710.0 3022.0 L1710.3 3027.4 L1710.6 3032.8 L1710.9 3038.4 L1711.2 3044.1 L1711.5 3050.0 L1712.0 3058.2 L1712.6 3068.0 L1713.1 3078.5 L1713.7 3088.9 L1714.2 3098.4 L1714.6 3106.2 L1714.8 3111.5 L1714.9 3113.4" stroke="#000000" clip-path="url(#c2)"/>
<path d="M260.6 3122.7 L261.4 3122.7 L263.6 3122.8 L266.7 3122.9 L270.5 3122.9 L274.5 3122.9 L278.3 3122.7 L281.5 3122.4 L283.8 3121.9 L284.6 3121.5 L285.2 3121.0 L285.7 3120.5 L286.2 3120.0 L286.6 3119.5 L287.1 3119.0 L287.5 3118.7 L288.0 3118.5 L288.6 3118.4 L289.1 3118.5 L289.6 3118.6 L290.1 3118.8 L290.7 3119.0 L291.2 3119.2 L291.7 3119.5 L292.3 3119.7 L292.8 3120.0 L293.2 3120.4 L293.6 3120.8 L294.0 3121.2 L294.5 3121.6 L295.0 3122.0 L295.7 3122.4 L296.5 3122.7 L300.6 3123.3 L306.4 3123.4 L313.5 3123.1 L321.6 3122.5 L330.3 3121.8 L339.1 3121.0 L347.7 3120.3 L355.7 3119.7 L363.6 3119.3 L371.7 3118.9 L379.9 3118.5 L388.1 3118.1 L396.2 3117.6 L404.1 3117.1 L411.8 3116.4 L419.1 3115.5 L424.8 3114.7 L430.3 3113.7 L435.6 3112.6 L440.7 3111.5 L445.9 3110.3 L451.0 3109.2 L456.1 3108.1 L461.3 3107.1 L466.5 3106.1 L471.5 3105.1 L476.5 3104.2 L481.5 3103.2 L486.6 3102.3 L492.0 3101.4 L497.6 3100.6 L503.6 3099.9 L512.8 3099.0 L522.7 3098.2 L533.1 3097.6 L544.0 3097.1 L555.1 3096.5 L566.3 3095.9 L577.4 3095.2 L588.1 3094.4 L598.7 3093.4 L609.4 3092.2 L620.0 3090.9 L630.6 3089.6 L641.2 3088.3 L651.8 3087.0 L662.3 3085.8 L672.7 3084.7 L682.5 3083.7 L692.1 3082.8 L701.8 3081.9 L711.3 3081.1 L720.9 3080.3 L730.5 3079.4 L740.2 3078.5 L750.0 3077.5 L760.4 3076.3 L770.9 3075.0 L781.4 3073.6 L792.0 3072.3 L802.7 3070.9 L813.3 3069.5 L823.9 3068.1 L834.5 3066.9 L845.1 3065.7 L855.7 3064.6 L866.2 3063.6 L876.8 3062.5 L887.4 3061.5 L897.9 3060.5 L908.5 3059.5 L919.1 3058.5 L929.6 3057.4 L940.2 3056.5 L950.8 3055.5 L961.3 3054.6 L971.9 3053.6 L982.5 3052.5 L993.0 3051.3 L1003.6 3050.0 L1014.3 3048.5 L1025.0 3046.7 L1035.8 3044.9 L1046.6 3042.9 L1057.3 3041.0 L1067.8 3039.2 L1078.1 3037.5 L1088.1 3036.1 L1096.6 3035.0 L1105.2 3034.2 L1113.6 3033.4 L1121.9 3032.8 L1129.9 3032.1 L1137.6 3031.4 L1144.8 3030.6 L1151.5 3029.7 L1155.8 3029.0 L1159.9 3028.4 L1163.7 3027.7 L1167.4 3027.0 L1171.0 3026.3 L1174.4 3025.4 L1177.8 3024.5 L1181.1 3023.4 L1184.0 3022.3 L1186.9 3021.3 L1189.7 3020.1 L1192.4 3018.9 L1195.0 3017.6 L1197.5 3016.1 L1199.9 3014.6 L1202.2 3012.8 L1204.4 3010.8 L1206.5 3008.7 L1208.5 3006.4 L1210.3 3004.0 L1212.1 3001.5 L1213.8 2998.9 L1215.4 2996.3 L1217.0 2993.8 L1218.6 2991.2 L1220.0 2988.4 L1221.3 2985.5 L1222.6 2982.6 L1223.9 2979.7 L1225.1 2977.1 L1226.4 2974.7 L1227.6 2972.7 L1228.4 2971.6 L1229.1 2970.7 L1229.9 2969.8 L1230.6 2969.1 L1231.4 2968.4 L1232.1 2967.6 L1232.8 2966.8 L1233.5 2966.0 L1234.2 2965.0 L1234.8 2963.9 L1235.4 2962.8 L1236.0 2961.6 L1236.6 2960.5 L1237.2 2959.6 L1237.9 2958.8 L1238.7 2958.2 L1239.4 2957.9 L1240.1 2957.7 L1240.9 2957.5 L1241.7 2957.5 L1242.5 2957.5 L1243.3 2957.7 L1244.0 2957.9 L1244.7 2958.2 L1245.4 2958.7 L1246.1 2959.4 L1246.6 2960.3 L1247.2 2961.2 L1247.7 2962.3 L1248.2 2963.5 L1248.8 2964.7 L1249.5 2966.0 L1250.9 2968.6 L1252.4 2971.6 L1254.1 2974.9 L1255.9 2978.5 L1257.6 2982.2 L1259.4 2986.1 L1261.1 2989.9 L1262.7 2993.8 L1264.4 2998.3 L1266.0 3003.2 L1267.7 3008.2 L1269.2 3013.3 L1270.8 3018.3 L1272.3 3023.2 L1273.8 3027.7 L1275.4 3031.8 L1276.4 3034.5 L1277.5 3037.0 L1278.5 3039.4 L1279.5 3041.7 L1280.5 3043.9 L1281.6 3046.0 L1282.7 3048.1 L1283.8 3050.0 L1284.8 3051.6 L1285.7 3053.1 L1286.7 3054.5 L1287.7 3055.9 L1288.7 3057.2 L1289.8 3058.5 L1291.0 3059.6 L1292.3 3060.6 L1293.6 3061.4 L1294.8 3062.1 L1296.1 3062.7 L1297.5 3063.2 L1299.0 3063.7 L1300.7 3064.1 L1302.7 3064.4 L1304.9 3064.8 L1313.7 3065.5 L1325.3 3065.7 L1339.1 3065.4 L1354.5 3064.8 L1370.8 3064.0 L1387.4 3063.2 L1403.7 3062.4 L1419.1 3061.8 L1434.6 3061.3 L1450.3 3060.8 L1466.1 3060.3 L1482.0 3059.7 L1498.0 3059.1 L1514.0 3058.6 L1530.0 3058.1 L1545.9 3057.6 L1562.5 3057.1 L1580.3 3056.5 L1598.6 3055.9 L1616.6 3055.4 L1633.8 3054.9 L1649.3 3054.7 L1662.5 3054.7 L1672.7 3055.1 L1675.6 3055.2 L1678.2 3055.3 L1680.5 3055.4 L1682.5 3055.6 L1684.4 3055.8 L1686.2 3056.2 L1687.9 3056.8 L1689.6 3057.6 L1691.0 3058.6 L1692.4 3059.7 L1693.7 3060.9 L1694.8 3062.3 L1695.9 3063.8 L1696.9 3065.5 L1697.9 3067.2 L1698.9 3069.0 L1700.1 3071.8 L1701.1 3074.8 L1702.0 3078.0 L1702.9 3081.4 L1703.6 3085.0 L1704.3 3088.8 L1705.0 3092.6 L1705.6 3096.5 L1706.4 3101.6 L1707.1 3107.0 L1707.6 3112.6 L1708.1 3118.4 L1708.6 3124.4 L1709.0 3130.4 L1709.4 3136.7 L1709.8 3143.0 L1710.4 3151.8 L1710.9 3162.2 L1711.4 3173.4 L1711.8 3184.5 L1712.2 3194.6 L1712.5 3202.9 L1712.7 3208.5 L1712.8 3210.6" stroke="#ff0000" clip-path="url(#c2)"/>
<path d="M260.6 3208.5 L261.4 3208.4 L263.8 3208.2 L267.3 3207.8 L271.8 3207.4 L276.8 3206.9 L282.1 3206.4 L287.3 3205.9 L292.3 3205.5 L299.1 3205.1 L306.6 3204.7 L314.4 3204.3 L322.6 3204.0 L330.9 3203.6 L339.3 3203.2 L347.6 3202.7 L355.7 3202.2 L363.7 3201.5 L371.8 3200.8 L380.0 3200.1 L388.2 3199.3 L396.2 3198.4 L404.1 3197.6 L411.8 3196.7 L419.1 3195.8 L424.8 3195.1 L430.4 3194.4 L435.8 3193.6 L441.0 3192.8 L446.2 3192.1 L451.3 3191.2 L456.3 3190.4 L461.3 3189.5 L465.7 3188.6 L469.9 3187.6 L474.0 3186.6 L478.0 3185.5 L482.1 3184.5 L486.3 3183.5 L490.6 3182.6 L495.1 3181.9 L500.9 3181.1 L506.9 3180.5 L513.1 3180.0 L519.5 3179.5 L526.0 3179.2 L532.5 3178.8 L539.2 3178.5 L545.9 3178.1 L553.4 3177.6 L561.2 3177.2 L569.1 3176.9 L577.1 3176.6 L585.2 3176.2 L593.3 3175.8 L601.3 3175.3 L609.3 3174.7 L617.1 3174.0 L625.0 3173.1 L632.8 3172.3 L640.6 3171.3 L648.4 3170.3 L656.4 3169.4 L664.4 3168.4 L672.7 3167.5 L681.9 3166.5 L691.4 3165.6 L700.9 3164.7 L710.6 3163.8 L720.4 3162.8 L730.2 3161.9 L740.1 3160.9 L750.0 3159.9 L760.4 3158.8 L770.9 3157.6 L781.4 3156.4 L792.0 3155.2 L802.7 3154.0 L813.3 3152.8 L823.9 3151.7 L834.5 3150.6 L845.1 3149.6 L855.7 3148.7 L866.2 3147.8 L876.8 3146.9 L887.4 3146.1 L897.9 3145.1 L908.5 3144.1 L919.1 3143.0 L929.6 3141.7 L940.2 3140.3 L950.8 3138.8 L961.3 3137.2 L971.9 3135.6 L982.5 3134.1 L993.0 3132.6 L1003.6 3131.1 L1014.4 3129.8 L1025.4 3128.3 L1036.6 3126.9 L1047.7 3125.6 L1058.5 3124.3 L1069.0 3123.1 L1078.9 3122.0 L1088.1 3121.0 L1094.2 3120.5 L1100.0 3120.0 L1105.5 3119.7 L1110.8 3119.3 L1116.0 3119.0 L1120.9 3118.6 L1125.7 3118.2 L1130.4 3117.6 L1133.9 3117.1 L1137.2 3116.6 L1140.4 3116.1 L1143.5 3115.5 L1146.6 3114.9 L1149.6 3114.2 L1152.7 3113.4 L1155.7 3112.6 L1159.0 3111.6 L1162.3 3110.6 L1165.6 3109.5 L1168.9 3108.3 L1172.1 3107.0 L1175.2 3105.7 L1178.3 3104.3 L1181.1 3102.8 L1183.5 3101.5 L1185.8 3100.0 L1188.1 3098.5 L1190.2 3096.9 L1192.3 3095.3 L1194.3 3093.7 L1196.2 3091.9 L1198.0 3090.2 L1199.6 3088.5 L1201.1 3086.7 L1202.4 3084.9 L1203.8 3083.1 L1205.0 3081.2 L1206.2 3079.3 L1207.4 3077.4 L1208.6 3075.4 L1209.8 3073.1 L1210.9 3070.5 L1212.0 3067.9 L1213.1 3065.3 L1214.1 3062.7 L1215.1 3060.3 L1216.1 3058.2 L1217.0 3056.3 L1217.6 3055.5 L1218.1 3054.7 L1218.6 3054.1 L1219.1 3053.4 L1219.6 3052.8 L1220.1 3052.3 L1220.5 3051.7 L1221.0 3051.0 L1221.4 3050.3 L1221.8 3049.5 L1222.2 3048.7 L1222.6 3047.9 L1223.0 3047.2 L1223.5 3046.5 L1223.9 3045.9 L1224.5 3045.5 L1225.1 3045.2 L1225.8 3045.0 L1226.5 3044.9 L1227.3 3044.8 L1228.0 3044.8 L1228.8 3045.0 L1229.4 3045.2 L1230.0 3045.5 L1230.7 3046.2 L1231.2 3047.2 L1231.6 3048.4 L1231.9 3049.8 L1232.2 3051.3 L1232.5 3052.9 L1233.0 3054.4 L1233.5 3056.0 L1234.5 3058.3 L1235.6 3060.8 L1236.9 3063.4 L1238.3 3066.1 L1239.7 3068.9 L1241.1 3071.7 L1242.5 3074.5 L1243.8 3077.3 L1245.1 3080.2 L1246.4 3083.1 L1247.7 3086.1 L1249.0 3089.1 L1250.3 3092.1 L1251.7 3095.1 L1253.0 3098.0 L1254.4 3101.0 L1255.8 3104.0 L1257.3 3107.2 L1258.7 3110.3 L1260.2 3113.4 L1261.7 3116.5 L1263.3 3119.4 L1264.8 3122.2 L1266.3 3124.7 L1267.4 3126.4 L1268.6 3128.1 L1269.7 3129.6 L1270.9 3131.1 L1272.1 3132.4 L1273.2 3133.8 L1274.5 3135.2 L1275.7 3136.5 L1276.9 3137.8 L1278.1 3139.1 L1279.4 3140.4 L1280.6 3141.7 L1281.9 3142.9 L1283.2 3144.0 L1284.6 3145.1 L1286.0 3146.0 L1287.4 3146.8 L1288.8 3147.4 L1290.3 3148.0 L1291.7 3148.5 L1293.3 3149.0 L1294.8 3149.4 L1296.4 3149.7 L1298.0 3150.0 L1299.7 3150.2 L1301.4 3150.4 L1303.0 3150.4 L1304.7 3150.4 L1306.5 3150.3 L1308.5 3150.3 L1310.8 3150.2 L1313.4 3150.2 L1321.9 3150.2 L1332.6 3150.2 L1345.0 3150.1 L1358.8 3150.0 L1373.5 3149.8 L1388.7 3149.7 L1404.0 3149.5 L1419.1 3149.3 L1438.7 3149.0 L1459.9 3148.6 L1482.1 3148.2 L1504.7 3147.8 L1527.2 3147.3 L1549.0 3146.9 L1569.5 3146.6 L1588.1 3146.4 L1600.5 3146.2 L1612.7 3146.0 L1624.6 3145.7 L1636.0 3145.5 L1646.7 3145.4 L1656.5 3145.5 L1665.2 3145.8 L1672.7 3146.4 L1675.8 3146.7 L1678.6 3146.9 L1681.2 3147.2 L1683.6 3147.6 L1685.8 3148.0 L1687.9 3148.6 L1689.8 3149.5 L1691.7 3150.6 L1693.3 3152.0 L1694.8 3153.5 L1696.2 3155.3 L1697.4 3157.3 L1698.5 3159.3 L1699.5 3161.6 L1700.5 3163.9 L1701.4 3166.2 L1702.5 3169.5 L1703.5 3173.0 L1704.3 3176.7 L1705.0 3180.6 L1705.7 3184.7 L1706.2 3188.9 L1706.8 3193.3 L1707.3 3197.9 L1708.0 3204.8 L1708.6 3212.2 L1709.1 3220.1 L1709.4 3228.2 L1709.8 3236.6 L1710.1 3245.0 L1710.4 3253.3 L1710.7 3261.3 L1711.0 3269.3 L1711.3 3277.3 L1711.6 3285.3 L1711.8 3293.3 L1712.1 3301.3 L1712.3 3309.2 L1712.5 3317.0 L1712.8 3324.7 L1713.1 3332.5 L1713.4 3341.3 L1713.8 3350.4 L1714.1 3359.3 L1714.4 3367.3 L1714.7 3373.8 L1714.9 3378.1 L1714.9 3379.7" stroke="#b010d8" clip-path="url(#c2)"/>
<path d="M260.6 3348.0 L261.8 3348.1 L265.0 3348.3 L269.9 3348.5 L275.8 3348.9 L282.4 3349.1 L289.1 3349.3 L295.3 3349.4 L300.7 3349.2 L305.0 3348.9 L309.1 3348.5 L313.2 3347.9 L317.2 3347.3 L321.2 3346.6 L325.4 3345.9 L329.8 3345.2 L334.5 3344.6 L341.7 3343.8 L349.6 3343.2 L358.0 3342.6 L366.6 3342.0 L375.2 3341.3 L383.4 3340.3 L391.1 3339.1 L397.9 3337.4 L402.3 3336.0 L406.4 3334.4 L410.3 3332.6 L414.0 3330.8 L417.5 3328.8 L420.9 3326.8 L424.2 3324.7 L427.5 3322.6 L430.4 3320.6 L433.1 3318.5 L435.8 3316.2 L438.3 3314.0 L440.8 3311.7 L443.4 3309.5 L446.0 3307.5 L448.6 3305.7 L451.2 3304.2 L453.7 3302.7 L456.2 3301.3 L458.7 3300.0 L461.3 3298.8 L464.0 3297.8 L466.8 3296.8 L469.8 3296.0 L473.5 3295.2 L477.2 3294.8 L481.1 3294.5 L485.2 3294.4 L489.4 3294.4 L493.9 3294.4 L498.6 3294.4 L503.6 3294.3 L512.3 3294.0 L522.0 3293.7 L532.5 3293.5 L543.5 3293.2 L554.8 3293.0 L566.1 3292.7 L577.3 3292.5 L588.1 3292.2 L598.7 3291.9 L609.3 3291.6 L620.0 3291.3 L630.6 3291.0 L641.2 3290.7 L651.8 3290.4 L662.3 3290.0 L672.7 3289.6 L682.4 3289.2 L691.8 3288.8 L701.1 3288.3 L710.4 3287.8 L719.8 3287.3 L729.4 3286.8 L739.4 3286.3 L750.0 3285.8 L764.4 3285.3 L779.5 3284.9 L795.3 3284.5 L811.4 3284.1 L827.9 3283.7 L844.4 3283.3 L860.7 3282.9 L876.8 3282.5 L892.6 3282.0 L908.5 3281.5 L924.3 3281.0 L940.2 3280.5 L956.0 3279.9 L971.9 3279.4 L987.7 3278.8 L1003.6 3278.2 L1019.6 3277.6 L1035.9 3277.0 L1052.3 3276.4 L1068.6 3275.8 L1084.7 3275.1 L1100.5 3274.5 L1115.8 3273.8 L1130.4 3273.2 L1142.0 3272.6 L1153.6 3272.0 L1164.9 3271.4 L1176.0 3270.7 L1186.6 3270.1 L1196.8 3269.6 L1206.2 3269.2 L1214.9 3268.9 L1219.9 3268.8 L1224.4 3268.8 L1228.5 3268.9 L1232.5 3268.9 L1236.4 3269.0 L1240.5 3269.0 L1245.0 3269.0 L1250.0 3268.9 L1258.8 3268.6 L1268.6 3268.2 L1279.0 3267.7 L1290.0 3267.0 L1301.2 3266.4 L1312.5 3265.8 L1323.7 3265.2 L1334.5 3264.7 L1345.0 3264.3 L1355.3 3263.9 L1365.5 3263.6 L1375.7 3263.2 L1386.1 3262.9 L1396.7 3262.7 L1407.7 3262.4 L1419.1 3262.2 L1433.7 3261.9 L1449.1 3261.8 L1464.9 3261.6 L1481.1 3261.5 L1497.5 3261.5 L1513.9 3261.4 L1530.0 3261.4 L1545.9 3261.3 L1561.6 3261.1 L1578.3 3260.7 L1595.3 3260.2 L1612.0 3259.8 L1627.9 3259.6 L1642.3 3259.7 L1654.6 3260.2 L1664.2 3261.3 L1667.1 3261.9 L1669.7 3262.5 L1672.0 3263.1 L1674.1 3263.8 L1676.0 3264.5 L1677.7 3265.4 L1679.4 3266.4 L1681.1 3267.7 L1682.8 3269.1 L1684.3 3270.6 L1685.7 3272.3 L1687.1 3274.1 L1688.3 3276.0 L1689.5 3278.1 L1690.6 3280.2 L1691.7 3282.5 L1692.9 3285.6 L1694.0 3288.9 L1695.0 3292.4 L1695.9 3296.2 L1696.7 3300.0 L1697.4 3304.0 L1698.1 3308.0 L1698.9 3312.0 L1699.7 3316.9 L1700.5 3321.9 L1701.2 3327.1 L1701.9 3332.3 L1702.6 3337.7 L1703.2 3343.2 L1703.8 3348.7 L1704.4 3354.3 L1705.0 3360.8 L1705.6 3367.4 L1706.2 3374.1 L1706.7 3380.9 L1707.2 3387.8 L1707.7 3394.8 L1708.1 3402.0 L1708.6 3409.3 L1709.1 3418.8 L1709.6 3429.9 L1710.1 3441.8 L1710.6 3453.6 L1710.9 3464.3 L1711.3 3473.0 L1711.5 3478.9 L1711.5 3481.1" stroke="#0000cd" clip-path="url(#c2)"/>
<path d="M260.6 3474.8 L261.4 3474.7 L263.8 3474.4 L267.3 3474.1 L271.8 3473.7 L276.8 3473.2 L282.1 3472.7 L287.3 3472.2 L292.3 3471.8 L299.1 3471.3 L306.6 3470.9 L314.5 3470.5 L322.6 3470.0 L331.0 3469.6 L339.3 3469.0 L347.6 3468.4 L355.7 3467.6 L363.8 3466.7 L372.1 3465.7 L380.6 3464.6 L388.9 3463.5 L397.1 3462.2 L405.0 3460.9 L412.3 3459.4 L419.1 3457.9 L423.4 3456.7 L427.4 3455.6 L431.2 3454.3 L434.8 3453.1 L438.3 3451.7 L441.8 3450.3 L445.2 3448.9 L448.6 3447.3 L452.0 3445.6 L455.2 3443.7 L458.4 3441.7 L461.6 3439.7 L464.7 3437.7 L467.8 3435.7 L470.9 3434.0 L474.0 3432.5 L476.6 3431.4 L479.1 3430.4 L481.6 3429.5 L484.0 3428.7 L486.5 3428.0 L489.2 3427.3 L492.0 3426.7 L495.1 3426.2 L500.3 3425.5 L505.9 3425.0 L511.9 3424.7 L518.3 3424.6 L524.9 3424.5 L531.7 3424.4 L538.7 3424.3 L545.9 3424.0 L555.4 3423.7 L565.5 3423.4 L576.0 3423.1 L586.8 3422.7 L597.8 3422.4 L608.8 3422.0 L619.7 3421.6 L630.4 3421.1 L641.2 3420.5 L652.4 3419.8 L663.7 3419.0 L674.9 3418.2 L685.9 3417.4 L696.4 3416.7 L706.1 3416.1 L714.9 3415.6 L719.9 3415.4 L724.2 3415.3 L728.2 3415.2 L732.0 3415.1 L735.9 3415.0 L740.1 3415.0 L744.7 3414.9 L750.0 3414.8 L762.1 3414.5 L776.2 3414.1 L791.8 3413.7 L808.5 3413.3 L825.8 3412.9 L843.3 3412.4 L860.4 3411.9 L876.8 3411.4 L892.6 3410.8 L908.5 3410.2 L924.3 3409.5 L940.2 3408.8 L956.0 3408.1 L971.9 3407.3 L987.7 3406.6 L1003.6 3405.9 L1019.6 3405.1 L1035.9 3404.4 L1052.3 3403.6 L1068.6 3402.8 L1084.7 3402.1 L1100.5 3401.3 L1115.8 3400.6 L1130.4 3400.0 L1142.0 3399.5 L1153.6 3399.0 L1164.9 3398.5 L1176.0 3398.0 L1186.6 3397.6 L1196.8 3397.2 L1206.2 3396.9 L1214.9 3396.6 L1219.9 3396.4 L1224.4 3396.3 L1228.5 3396.3 L1232.5 3396.2 L1236.4 3396.2 L1240.5 3396.1 L1245.0 3395.9 L1250.0 3395.7 L1258.8 3395.3 L1268.6 3394.7 L1279.0 3393.9 L1290.0 3393.1 L1301.2 3392.3 L1312.5 3391.6 L1323.7 3390.8 L1334.5 3390.2 L1345.0 3389.7 L1355.3 3389.3 L1365.5 3388.9 L1375.7 3388.5 L1386.1 3388.2 L1396.7 3387.9 L1407.7 3387.6 L1419.1 3387.3 L1433.8 3386.9 L1449.2 3386.6 L1465.2 3386.3 L1481.6 3386.0 L1498.0 3385.7 L1514.4 3385.4 L1530.4 3385.1 L1545.9 3384.7 L1560.1 3384.3 L1575.0 3383.8 L1590.1 3383.2 L1604.9 3382.7 L1618.9 3382.2 L1631.6 3381.8 L1642.6 3381.7 L1651.5 3381.8 L1654.4 3381.9 L1657.0 3382.1 L1659.2 3382.3 L1661.3 3382.5 L1663.2 3382.7 L1665.1 3382.9 L1667.0 3383.2 L1669.0 3383.4 L1670.9 3383.6 L1672.7 3383.7 L1674.6 3383.8 L1676.4 3383.9 L1678.2 3384.0 L1679.9 3384.2 L1681.5 3384.6 L1683.0 3385.0 L1684.2 3385.4 L1685.3 3385.9 L1686.3 3386.5 L1687.4 3387.1 L1688.3 3387.7 L1689.3 3388.4 L1690.2 3389.2 L1691.0 3390.0 L1691.8 3390.9 L1692.6 3391.9 L1693.4 3393.0 L1694.0 3394.2 L1694.7 3395.4 L1695.3 3396.6 L1695.9 3397.8 L1696.5 3399.0 L1697.1 3400.3 L1697.7 3401.6 L1698.2 3402.9 L1698.7 3404.3 L1699.2 3405.6 L1699.6 3407.0 L1700.1 3408.5 L1700.5 3410.0 L1701.0 3411.8 L1701.4 3413.7 L1701.8 3415.6 L1702.1 3417.6 L1702.5 3419.6 L1702.8 3421.7 L1703.2 3423.8 L1703.5 3426.0 L1703.9 3428.8 L1704.3 3431.8 L1704.7 3434.8 L1705.1 3438.0 L1705.5 3441.2 L1705.8 3444.4 L1706.2 3447.7 L1706.5 3451.0 L1706.9 3454.7 L1707.2 3458.5 L1707.5 3462.4 L1707.8 3466.4 L1708.1 3470.3 L1708.4 3474.3 L1708.7 3478.2 L1709.0 3482.0 L1709.3 3485.6 L1709.5 3489.2 L1709.8 3492.8 L1710.1 3496.4 L1710.3 3499.9 L1710.6 3503.4 L1710.8 3506.7 L1711.0 3510.0 L1711.2 3512.9 L1711.3 3516.2 L1711.5 3519.5 L1711.7 3522.7 L1711.8 3525.6 L1711.9 3527.9 L1712.0 3529.4 L1712.0 3530.0" stroke="#006400" clip-path="url(#c2)"/>
</g>
<rect x="260" y="2070.5" width="1461" height="1458.5" fill="none" stroke="#000" stroke-width="10"/>
<g text-rendering="geometricPrecision" shape-rendering="auto">
<text><tspan x="751.54" y="2177.90" font-size="77.00" textLength="78.06" lengthAdjust="spacingAndGlyphs">10</tspan><tspan x="829.50" y="2139.93" font-size="46.58" textLength="28.84" lengthAdjust="spacingAndGlyphs">o</tspan><tspan x="857.06" y="2177.90" font-size="77.00" textLength="195.41" lengthAdjust="spacingAndGlyphs">C/min</tspan></text>
<line x1="788" y1="2213.6" x2="1045.7" y2="2213.6" stroke="#000" stroke-width="2.2"/>
<path d="M762.2 2213.6 L804.5 2197.4 L790 2213.6 L805.7 2230.1 Z" fill="#000"/>
<text transform="translate(1339.08 2412.60) scale(1.0409 1)" font-size="58">uEVA</text>
<text transform="translate(1355.24 2709.80) scale(1.0399 1)" font-size="58">cEVA</text>
<text transform="translate(1361.03 2936.70) scale(1.0132 1)" font-size="58">nTPV</text>
<text transform="translate(1364.41 3041.50) scale(0.9984 1)" font-size="58">sTPV</text>
<text transform="translate(1363.55 3126.00) scale(0.9959 1)" font-size="58">aTPV</text>
<text transform="translate(1385.57 3225.40) scale(1.0422 1)" font-size="58">uNR</text>
<text transform="translate(1397.53 3352.20) scale(1.0020 1)" font-size="58">cNR</text>
<text transform="translate(184.39 3612.80) scale(0.9932 1)" font-size="76.4">-100</text>
<text transform="translate(496.35 3612.80) scale(0.9741 1)" font-size="76.4">-50</text>
<text transform="translate(820.12 3612.80) scale(1.0416 1)" font-size="76.4">0</text>
<text transform="translate(1094.15 3612.80) scale(0.9647 1)" font-size="76.4">50</text>
<text transform="translate(1366.65 3612.80) scale(0.9343 1)" font-size="76.4">100</text>
<text transform="translate(1660.82 3612.80) scale(0.9385 1)" font-size="76.4">150</text>
<text font-weight="bold"><tspan x="664.18" y="3744.00" font-size="81.50" textLength="538.28" lengthAdjust="spacingAndGlyphs">Temperature (</tspan><tspan x="1206.04" y="3700.04" font-size="56.07" textLength="32.92" lengthAdjust="spacingAndGlyphs">o</tspan><tspan x="1238.74" y="3744.00" font-size="81.50" textLength="85.95" lengthAdjust="spacingAndGlyphs">C)</tspan></text>
<text transform="translate(108.00 3103.80) rotate(-90) scale(0.9888 1) translate(-5.53 0)" font-size="82" font-weight="bold">Heat flow (exo up)</text>
<g class="cap"><text><tspan x="766.32" y="3949.36" font-size="77.36" textLength="26.51" lengthAdjust="spacingAndGlyphs">(</tspan><tspan x="792.74" y="3957.31" font-size="88.79" textLength="51.47" lengthAdjust="spacingAndGlyphs">b</tspan><tspan x="844.24" y="3949.36" font-size="77.36" textLength="26.25" lengthAdjust="spacingAndGlyphs">)</tspan></text></g>
</g>
</svg></body></html>
